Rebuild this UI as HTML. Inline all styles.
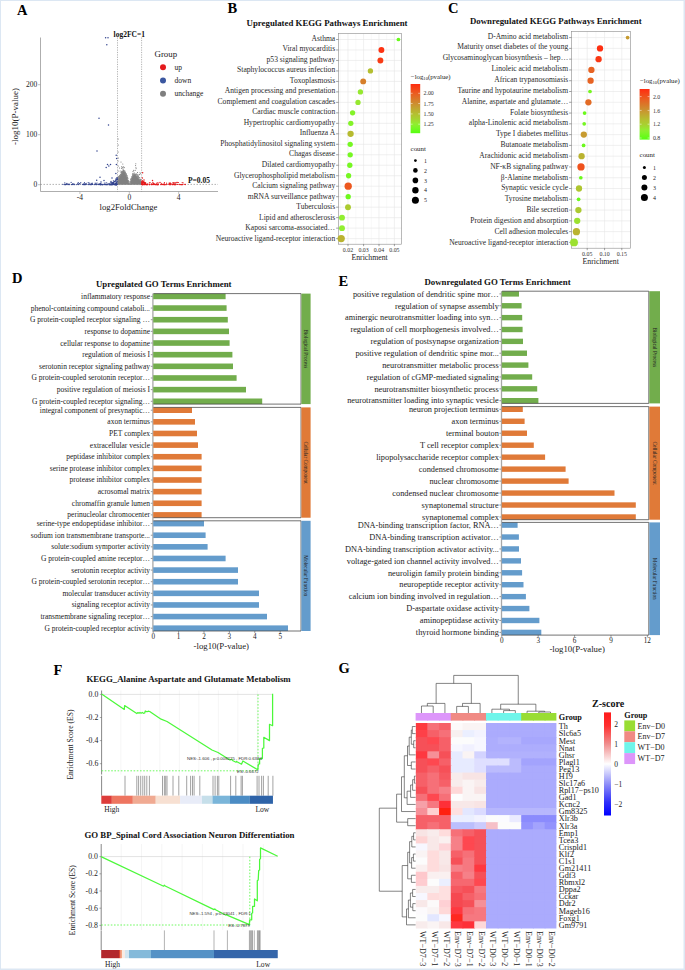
<!DOCTYPE html>
<html><head><meta charset="utf-8"><style>
html,body{margin:0;padding:0;background:#fff;}
svg{display:block;font-family:"Liberation Serif", serif;}
</style></head><body>
<svg width="685" height="970" viewBox="0 0 685 970">
<rect x="0" y="0" width="685" height="970" fill="#fff"/>
<text x="17.00" y="15.00" font-size="14.5" text-anchor="start" font-weight="bold" fill="#000">A</text>
<line x1="40.50" y1="37.50" x2="40.50" y2="191.50" stroke="#999" stroke-width="0.8"/>
<line x1="40.50" y1="191.50" x2="218.00" y2="191.50" stroke="#999" stroke-width="0.8"/>
<line x1="38.00" y1="184.70" x2="40.50" y2="184.70" stroke="#999" stroke-width="0.6"/>
<text x="37.30" y="187.30" font-size="7.5" text-anchor="end" fill="#222">0</text>
<line x1="38.00" y1="134.70" x2="40.50" y2="134.70" stroke="#999" stroke-width="0.6"/>
<text x="37.30" y="137.30" font-size="7.5" text-anchor="end" fill="#222">100</text>
<line x1="38.00" y1="84.70" x2="40.50" y2="84.70" stroke="#999" stroke-width="0.6"/>
<text x="37.30" y="87.30" font-size="7.5" text-anchor="end" fill="#222">200</text>
<line x1="79.90" y1="191.50" x2="79.90" y2="194.00" stroke="#999" stroke-width="0.6"/>
<text x="79.90" y="199.80" font-size="7.5" text-anchor="middle" fill="#222">-4</text>
<line x1="129.30" y1="191.50" x2="129.30" y2="194.00" stroke="#999" stroke-width="0.6"/>
<text x="129.30" y="199.80" font-size="7.5" text-anchor="middle" fill="#222">0</text>
<line x1="178.70" y1="191.50" x2="178.70" y2="194.00" stroke="#999" stroke-width="0.6"/>
<text x="178.70" y="199.80" font-size="7.5" text-anchor="middle" fill="#222">4</text>
<text x="128.50" y="209.60" font-size="8.7" text-anchor="middle" fill="#222">log2FoldChange</text>
<text x="17.60" y="116.50" font-size="9" text-anchor="middle" fill="#222" transform="rotate(-90 17.60 116.50)">-log10(P-value)</text>
<line x1="117.50" y1="37.50" x2="117.50" y2="191.50" stroke="#666" stroke-width="0.5" stroke-dasharray="1.2,1.2"/>
<line x1="141.60" y1="37.50" x2="141.60" y2="191.50" stroke="#666" stroke-width="0.5" stroke-dasharray="1.2,1.2"/>
<line x1="40.50" y1="184.40" x2="218.00" y2="184.40" stroke="#666" stroke-width="0.5" stroke-dasharray="1.5,1.5"/>
<polygon points="117.60,184.60 117.60,179.80 119.00,177.60 120.50,175.40 122.00,172.30 123.40,170.80 124.80,172.00 126.40,175.60 128.00,180.20 129.40,184.40" fill="#808080" stroke="#808080" stroke-width="0.6" stroke-linejoin="round"/>
<polygon points="130.00,184.40 131.00,180.20 132.50,175.80 134.00,174.30 135.60,174.90 137.20,176.60 139.20,179.20 141.30,181.40 141.30,184.60" fill="#808080" stroke="#808080" stroke-width="0.6" stroke-linejoin="round"/>
<circle cx="125.38" cy="173.25" r="0.50" fill="#8a8a8a"/>
<circle cx="133.03" cy="175.26" r="0.50" fill="#8a8a8a"/>
<circle cx="130.34" cy="182.68" r="0.50" fill="#8a8a8a"/>
<circle cx="119.16" cy="176.80" r="0.50" fill="#8a8a8a"/>
<circle cx="118.68" cy="177.69" r="0.50" fill="#8a8a8a"/>
<circle cx="119.43" cy="176.94" r="0.50" fill="#8a8a8a"/>
<circle cx="127.73" cy="177.93" r="0.50" fill="#8a8a8a"/>
<circle cx="120.70" cy="174.88" r="0.50" fill="#8a8a8a"/>
<circle cx="132.48" cy="173.88" r="0.50" fill="#8a8a8a"/>
<circle cx="131.30" cy="178.96" r="0.50" fill="#8a8a8a"/>
<circle cx="140.64" cy="180.71" r="0.50" fill="#8a8a8a"/>
<circle cx="137.89" cy="177.31" r="0.50" fill="#8a8a8a"/>
<circle cx="121.18" cy="173.97" r="0.50" fill="#8a8a8a"/>
<circle cx="125.02" cy="171.03" r="0.50" fill="#8a8a8a"/>
<circle cx="122.03" cy="171.52" r="0.50" fill="#8a8a8a"/>
<circle cx="132.75" cy="175.24" r="0.50" fill="#8a8a8a"/>
<circle cx="130.62" cy="181.80" r="0.50" fill="#8a8a8a"/>
<circle cx="119.19" cy="177.22" r="0.50" fill="#8a8a8a"/>
<circle cx="133.72" cy="174.18" r="0.50" fill="#8a8a8a"/>
<circle cx="125.15" cy="172.04" r="0.50" fill="#8a8a8a"/>
<circle cx="128.40" cy="181.22" r="0.50" fill="#8a8a8a"/>
<circle cx="136.39" cy="174.66" r="0.50" fill="#8a8a8a"/>
<circle cx="123.51" cy="170.17" r="0.50" fill="#8a8a8a"/>
<circle cx="130.09" cy="182.34" r="0.50" fill="#8a8a8a"/>
<circle cx="134.87" cy="174.44" r="0.50" fill="#8a8a8a"/>
<circle cx="140.74" cy="180.78" r="0.50" fill="#8a8a8a"/>
<circle cx="127.58" cy="177.74" r="0.50" fill="#8a8a8a"/>
<circle cx="121.36" cy="173.10" r="0.50" fill="#8a8a8a"/>
<circle cx="118.72" cy="177.06" r="0.50" fill="#8a8a8a"/>
<circle cx="135.69" cy="174.27" r="0.50" fill="#8a8a8a"/>
<circle cx="138.29" cy="177.80" r="0.50" fill="#8a8a8a"/>
<circle cx="134.07" cy="173.55" r="0.50" fill="#8a8a8a"/>
<circle cx="131.37" cy="178.66" r="0.50" fill="#8a8a8a"/>
<circle cx="137.46" cy="174.97" r="0.50" fill="#8a8a8a"/>
<circle cx="128.89" cy="181.91" r="0.50" fill="#8a8a8a"/>
<circle cx="119.22" cy="176.20" r="0.50" fill="#8a8a8a"/>
<circle cx="132.94" cy="173.19" r="0.50" fill="#8a8a8a"/>
<circle cx="137.03" cy="176.24" r="0.50" fill="#8a8a8a"/>
<circle cx="126.83" cy="175.85" r="0.50" fill="#8a8a8a"/>
<circle cx="118.33" cy="178.19" r="0.50" fill="#8a8a8a"/>
<circle cx="121.73" cy="172.82" r="0.50" fill="#8a8a8a"/>
<circle cx="119.18" cy="176.04" r="0.50" fill="#8a8a8a"/>
<circle cx="120.83" cy="174.59" r="0.50" fill="#8a8a8a"/>
<circle cx="126.95" cy="175.51" r="0.50" fill="#8a8a8a"/>
<circle cx="119.69" cy="176.15" r="0.50" fill="#8a8a8a"/>
<circle cx="130.66" cy="179.92" r="0.50" fill="#8a8a8a"/>
<circle cx="136.97" cy="174.71" r="0.50" fill="#8a8a8a"/>
<circle cx="124.32" cy="171.20" r="0.50" fill="#8a8a8a"/>
<circle cx="126.20" cy="173.42" r="0.50" fill="#8a8a8a"/>
<circle cx="140.21" cy="180.21" r="0.50" fill="#8a8a8a"/>
<circle cx="121.92" cy="172.34" r="0.50" fill="#8a8a8a"/>
<circle cx="123.26" cy="170.43" r="0.50" fill="#8a8a8a"/>
<circle cx="131.59" cy="178.33" r="0.50" fill="#8a8a8a"/>
<circle cx="117.90" cy="178.95" r="0.50" fill="#8a8a8a"/>
<circle cx="126.44" cy="175.01" r="0.50" fill="#8a8a8a"/>
<circle cx="140.10" cy="179.10" r="0.50" fill="#8a8a8a"/>
<circle cx="129.86" cy="183.66" r="0.50" fill="#8a8a8a"/>
<circle cx="133.62" cy="174.67" r="0.50" fill="#8a8a8a"/>
<circle cx="138.85" cy="177.41" r="0.50" fill="#8a8a8a"/>
<circle cx="138.26" cy="176.58" r="0.50" fill="#8a8a8a"/>
<circle cx="126.98" cy="176.92" r="0.50" fill="#8a8a8a"/>
<circle cx="120.22" cy="174.92" r="0.50" fill="#8a8a8a"/>
<circle cx="119.26" cy="177.21" r="0.50" fill="#8a8a8a"/>
<circle cx="122.69" cy="171.51" r="0.50" fill="#8a8a8a"/>
<circle cx="125.76" cy="174.15" r="0.50" fill="#8a8a8a"/>
<circle cx="117.81" cy="179.43" r="0.50" fill="#8a8a8a"/>
<circle cx="120.17" cy="175.59" r="0.50" fill="#8a8a8a"/>
<circle cx="118.40" cy="176.87" r="0.50" fill="#8a8a8a"/>
<circle cx="132.17" cy="176.72" r="0.50" fill="#8a8a8a"/>
<circle cx="123.70" cy="170.79" r="0.50" fill="#8a8a8a"/>
<circle cx="126.32" cy="175.39" r="0.50" fill="#8a8a8a"/>
<circle cx="137.67" cy="175.03" r="0.50" fill="#8a8a8a"/>
<circle cx="128.70" cy="181.80" r="0.50" fill="#8a8a8a"/>
<circle cx="119.81" cy="176.39" r="0.50" fill="#8a8a8a"/>
<circle cx="125.82" cy="174.14" r="0.50" fill="#8a8a8a"/>
<circle cx="137.20" cy="176.54" r="0.50" fill="#8a8a8a"/>
<circle cx="118.34" cy="176.65" r="0.50" fill="#8a8a8a"/>
<circle cx="130.16" cy="183.68" r="0.50" fill="#8a8a8a"/>
<circle cx="130.51" cy="182.26" r="0.50" fill="#8a8a8a"/>
<circle cx="130.16" cy="181.63" r="0.50" fill="#8a8a8a"/>
<circle cx="138.00" cy="176.58" r="0.50" fill="#8a8a8a"/>
<circle cx="123.91" cy="170.94" r="0.50" fill="#8a8a8a"/>
<circle cx="121.71" cy="171.59" r="0.50" fill="#8a8a8a"/>
<circle cx="130.26" cy="181.96" r="0.50" fill="#8a8a8a"/>
<circle cx="125.51" cy="173.50" r="0.50" fill="#8a8a8a"/>
<circle cx="136.79" cy="174.03" r="0.50" fill="#8a8a8a"/>
<circle cx="137.75" cy="175.89" r="0.50" fill="#8a8a8a"/>
<circle cx="136.95" cy="175.13" r="0.50" fill="#8a8a8a"/>
<circle cx="123.11" cy="170.53" r="0.50" fill="#8a8a8a"/>
<circle cx="126.12" cy="174.97" r="0.50" fill="#8a8a8a"/>
<circle cx="118.45" cy="178.29" r="0.50" fill="#8a8a8a"/>
<circle cx="123.86" cy="170.14" r="0.50" fill="#8a8a8a"/>
<circle cx="140.18" cy="179.79" r="0.50" fill="#8a8a8a"/>
<circle cx="139.73" cy="177.60" r="0.50" fill="#8a8a8a"/>
<circle cx="140.15" cy="179.90" r="0.50" fill="#8a8a8a"/>
<circle cx="122.96" cy="171.16" r="0.50" fill="#8a8a8a"/>
<circle cx="122.40" cy="171.78" r="0.50" fill="#8a8a8a"/>
<circle cx="132.40" cy="174.30" r="0.50" fill="#8a8a8a"/>
<circle cx="137.47" cy="176.44" r="0.50" fill="#8a8a8a"/>
<circle cx="133.08" cy="173.81" r="0.50" fill="#8a8a8a"/>
<circle cx="119.78" cy="175.49" r="0.50" fill="#8a8a8a"/>
<circle cx="139.09" cy="177.71" r="0.50" fill="#8a8a8a"/>
<circle cx="135.35" cy="174.30" r="0.50" fill="#8a8a8a"/>
<circle cx="121.98" cy="170.98" r="0.50" fill="#8a8a8a"/>
<circle cx="125.58" cy="172.35" r="0.50" fill="#8a8a8a"/>
<circle cx="140.54" cy="180.26" r="0.50" fill="#8a8a8a"/>
<circle cx="127.19" cy="175.91" r="0.50" fill="#8a8a8a"/>
<circle cx="134.76" cy="174.52" r="0.50" fill="#8a8a8a"/>
<circle cx="120.77" cy="174.79" r="0.50" fill="#8a8a8a"/>
<circle cx="138.97" cy="177.47" r="0.50" fill="#8a8a8a"/>
<circle cx="121.22" cy="172.41" r="0.50" fill="#8a8a8a"/>
<circle cx="140.74" cy="179.86" r="0.50" fill="#8a8a8a"/>
<circle cx="126.00" cy="174.04" r="0.50" fill="#8a8a8a"/>
<circle cx="120.87" cy="174.65" r="0.50" fill="#8a8a8a"/>
<circle cx="140.52" cy="179.65" r="0.50" fill="#8a8a8a"/>
<circle cx="130.12" cy="181.97" r="0.50" fill="#8a8a8a"/>
<circle cx="127.95" cy="178.39" r="0.50" fill="#8a8a8a"/>
<circle cx="137.13" cy="176.43" r="0.50" fill="#8a8a8a"/>
<circle cx="123.69" cy="170.86" r="0.50" fill="#8a8a8a"/>
<circle cx="123.43" cy="170.07" r="0.50" fill="#8a8a8a"/>
<circle cx="123.87" cy="170.82" r="0.50" fill="#8a8a8a"/>
<circle cx="120.87" cy="172.82" r="0.50" fill="#8a8a8a"/>
<circle cx="126.08" cy="174.41" r="0.50" fill="#8a8a8a"/>
<circle cx="131.45" cy="177.08" r="0.50" fill="#8a8a8a"/>
<circle cx="127.64" cy="177.32" r="0.50" fill="#8a8a8a"/>
<circle cx="129.54" cy="183.88" r="0.50" fill="#8a8a8a"/>
<circle cx="130.05" cy="184.19" r="0.50" fill="#8a8a8a"/>
<circle cx="128.10" cy="180.42" r="0.50" fill="#8a8a8a"/>
<circle cx="117.89" cy="177.94" r="0.50" fill="#8a8a8a"/>
<circle cx="121.83" cy="172.15" r="0.50" fill="#8a8a8a"/>
<circle cx="134.77" cy="173.91" r="0.50" fill="#8a8a8a"/>
<circle cx="125.43" cy="172.82" r="0.50" fill="#8a8a8a"/>
<circle cx="130.80" cy="179.70" r="0.50" fill="#8a8a8a"/>
<circle cx="120.28" cy="175.03" r="0.50" fill="#8a8a8a"/>
<circle cx="123.61" cy="170.82" r="0.50" fill="#8a8a8a"/>
<circle cx="135.87" cy="174.62" r="0.50" fill="#8a8a8a"/>
<circle cx="130.94" cy="179.16" r="0.50" fill="#8a8a8a"/>
<circle cx="139.15" cy="178.71" r="0.50" fill="#8a8a8a"/>
<circle cx="132.13" cy="176.31" r="0.50" fill="#8a8a8a"/>
<circle cx="129.78" cy="183.44" r="0.50" fill="#8a8a8a"/>
<circle cx="128.38" cy="180.73" r="0.50" fill="#8a8a8a"/>
<circle cx="128.99" cy="181.21" r="0.50" fill="#8a8a8a"/>
<circle cx="134.16" cy="172.67" r="0.50" fill="#8a8a8a"/>
<circle cx="139.85" cy="179.73" r="0.50" fill="#8a8a8a"/>
<circle cx="130.89" cy="178.69" r="0.50" fill="#8a8a8a"/>
<circle cx="137.46" cy="176.89" r="0.50" fill="#8a8a8a"/>
<circle cx="120.65" cy="174.67" r="0.50" fill="#8a8a8a"/>
<circle cx="119.50" cy="176.74" r="0.50" fill="#8a8a8a"/>
<circle cx="119.51" cy="175.86" r="0.50" fill="#8a8a8a"/>
<circle cx="136.14" cy="173.71" r="0.50" fill="#8a8a8a"/>
<circle cx="121.41" cy="172.38" r="0.50" fill="#8a8a8a"/>
<circle cx="133.25" cy="175.01" r="0.50" fill="#8a8a8a"/>
<circle cx="138.46" cy="176.18" r="0.50" fill="#8a8a8a"/>
<circle cx="122.94" cy="169.30" r="0.50" fill="#8a8a8a"/>
<circle cx="127.12" cy="177.15" r="0.50" fill="#8a8a8a"/>
<circle cx="140.96" cy="179.52" r="0.50" fill="#8a8a8a"/>
<circle cx="121.58" cy="172.76" r="0.50" fill="#8a8a8a"/>
<circle cx="129.87" cy="184.25" r="0.50" fill="#8a8a8a"/>
<circle cx="122.38" cy="171.67" r="0.50" fill="#8a8a8a"/>
<circle cx="134.70" cy="174.56" r="0.50" fill="#8a8a8a"/>
<circle cx="121.50" cy="168.20" r="0.55" fill="#7a7a7a"/>
<circle cx="122.20" cy="167.60" r="0.55" fill="#7a7a7a"/>
<circle cx="123.00" cy="167.90" r="0.55" fill="#7a7a7a"/>
<circle cx="123.60" cy="166.80" r="0.55" fill="#7a7a7a"/>
<circle cx="124.30" cy="167.60" r="0.55" fill="#7a7a7a"/>
<circle cx="121.80" cy="166.50" r="0.55" fill="#7a7a7a"/>
<circle cx="122.80" cy="164.00" r="0.55" fill="#7a7a7a"/>
<circle cx="121.00" cy="162.00" r="0.55" fill="#7a7a7a"/>
<circle cx="135.60" cy="165.50" r="0.55" fill="#7a7a7a"/>
<circle cx="135.90" cy="167.20" r="0.55" fill="#7a7a7a"/>
<circle cx="136.10" cy="168.60" r="0.55" fill="#7a7a7a"/>
<circle cx="135.30" cy="170.20" r="0.55" fill="#7a7a7a"/>
<circle cx="135.80" cy="163.80" r="0.55" fill="#7a7a7a"/>
<circle cx="140.00" cy="172.80" r="0.55" fill="#7a7a7a"/>
<circle cx="139.50" cy="174.60" r="0.55" fill="#7a7a7a"/>
<circle cx="140.50" cy="173.80" r="0.55" fill="#7a7a7a"/>
<circle cx="118.20" cy="171.00" r="0.55" fill="#7a7a7a"/>
<circle cx="118.30" cy="166.00" r="0.55" fill="#7a7a7a"/>
<circle cx="118.10" cy="161.00" r="0.55" fill="#7a7a7a"/>
<circle cx="118.40" cy="158.00" r="0.55" fill="#7a7a7a"/>
<circle cx="118.20" cy="152.00" r="0.55" fill="#7a7a7a"/>
<circle cx="118.30" cy="145.00" r="0.55" fill="#7a7a7a"/>
<circle cx="118.20" cy="139.00" r="0.55" fill="#7a7a7a"/>
<circle cx="119.50" cy="168.00" r="0.55" fill="#7a7a7a"/>
<circle cx="120.20" cy="171.00" r="0.55" fill="#7a7a7a"/>
<circle cx="133.00" cy="171.50" r="0.55" fill="#7a7a7a"/>
<circle cx="133.80" cy="170.40" r="0.55" fill="#7a7a7a"/>
<circle cx="137.50" cy="172.50" r="0.55" fill="#7a7a7a"/>
<circle cx="138.60" cy="175.00" r="0.55" fill="#7a7a7a"/>
<circle cx="97.01" cy="184.52" r="0.60" fill="#34458f"/>
<circle cx="116.74" cy="184.57" r="0.60" fill="#34458f"/>
<circle cx="92.58" cy="184.45" r="0.60" fill="#34458f"/>
<circle cx="116.29" cy="182.53" r="0.60" fill="#34458f"/>
<circle cx="80.76" cy="182.64" r="0.60" fill="#34458f"/>
<circle cx="115.63" cy="184.59" r="0.60" fill="#34458f"/>
<circle cx="116.58" cy="183.79" r="0.60" fill="#34458f"/>
<circle cx="110.95" cy="184.60" r="0.60" fill="#34458f"/>
<circle cx="104.33" cy="183.08" r="0.60" fill="#34458f"/>
<circle cx="78.34" cy="184.59" r="0.60" fill="#34458f"/>
<circle cx="114.67" cy="183.03" r="0.60" fill="#34458f"/>
<circle cx="96.00" cy="184.07" r="0.60" fill="#34458f"/>
<circle cx="115.91" cy="184.60" r="0.60" fill="#34458f"/>
<circle cx="88.19" cy="184.53" r="0.60" fill="#34458f"/>
<circle cx="116.18" cy="182.89" r="0.60" fill="#34458f"/>
<circle cx="91.89" cy="183.69" r="0.60" fill="#34458f"/>
<circle cx="116.00" cy="183.42" r="0.60" fill="#34458f"/>
<circle cx="116.26" cy="183.38" r="0.60" fill="#34458f"/>
<circle cx="102.71" cy="184.57" r="0.60" fill="#34458f"/>
<circle cx="97.07" cy="182.98" r="0.60" fill="#34458f"/>
<circle cx="111.05" cy="184.60" r="0.60" fill="#34458f"/>
<circle cx="98.63" cy="184.59" r="0.60" fill="#34458f"/>
<circle cx="115.54" cy="184.60" r="0.60" fill="#34458f"/>
<circle cx="116.46" cy="184.60" r="0.60" fill="#34458f"/>
<circle cx="109.35" cy="184.58" r="0.60" fill="#34458f"/>
<circle cx="82.97" cy="184.58" r="0.60" fill="#34458f"/>
<circle cx="100.17" cy="184.60" r="0.60" fill="#34458f"/>
<circle cx="107.87" cy="184.60" r="0.60" fill="#34458f"/>
<circle cx="111.67" cy="184.60" r="0.60" fill="#34458f"/>
<circle cx="84.95" cy="184.40" r="0.60" fill="#34458f"/>
<circle cx="113.61" cy="184.49" r="0.60" fill="#34458f"/>
<circle cx="68.66" cy="184.60" r="0.60" fill="#34458f"/>
<circle cx="78.35" cy="184.52" r="0.60" fill="#34458f"/>
<circle cx="100.46" cy="183.53" r="0.60" fill="#34458f"/>
<circle cx="105.76" cy="184.45" r="0.60" fill="#34458f"/>
<circle cx="88.22" cy="182.55" r="0.60" fill="#34458f"/>
<circle cx="108.06" cy="183.54" r="0.60" fill="#34458f"/>
<circle cx="86.87" cy="184.24" r="0.60" fill="#34458f"/>
<circle cx="105.20" cy="184.57" r="0.60" fill="#34458f"/>
<circle cx="116.42" cy="184.60" r="0.60" fill="#34458f"/>
<circle cx="116.20" cy="183.94" r="0.60" fill="#34458f"/>
<circle cx="111.49" cy="184.60" r="0.60" fill="#34458f"/>
<circle cx="115.99" cy="183.50" r="0.60" fill="#34458f"/>
<circle cx="74.14" cy="184.16" r="0.60" fill="#34458f"/>
<circle cx="110.52" cy="184.59" r="0.60" fill="#34458f"/>
<circle cx="110.10" cy="184.50" r="0.60" fill="#34458f"/>
<circle cx="114.47" cy="184.51" r="0.60" fill="#34458f"/>
<circle cx="111.22" cy="182.72" r="0.60" fill="#34458f"/>
<circle cx="65.29" cy="184.40" r="0.60" fill="#34458f"/>
<circle cx="111.88" cy="182.69" r="0.60" fill="#34458f"/>
<circle cx="109.44" cy="184.56" r="0.60" fill="#34458f"/>
<circle cx="116.80" cy="184.55" r="0.60" fill="#34458f"/>
<circle cx="101.59" cy="184.46" r="0.60" fill="#34458f"/>
<circle cx="113.27" cy="184.46" r="0.60" fill="#34458f"/>
<circle cx="116.79" cy="184.59" r="0.60" fill="#34458f"/>
<circle cx="115.90" cy="184.54" r="0.60" fill="#34458f"/>
<circle cx="116.56" cy="184.60" r="0.60" fill="#34458f"/>
<circle cx="109.66" cy="184.59" r="0.60" fill="#34458f"/>
<circle cx="95.06" cy="184.43" r="0.60" fill="#34458f"/>
<circle cx="83.65" cy="184.19" r="0.60" fill="#34458f"/>
<circle cx="86.20" cy="183.29" r="0.60" fill="#34458f"/>
<circle cx="105.93" cy="184.58" r="0.60" fill="#34458f"/>
<circle cx="64.19" cy="184.60" r="0.60" fill="#34458f"/>
<circle cx="85.60" cy="184.22" r="0.60" fill="#34458f"/>
<circle cx="116.54" cy="183.53" r="0.60" fill="#34458f"/>
<circle cx="72.34" cy="184.26" r="0.60" fill="#34458f"/>
<circle cx="84.89" cy="183.64" r="0.60" fill="#34458f"/>
<circle cx="114.91" cy="184.43" r="0.60" fill="#34458f"/>
<circle cx="99.93" cy="183.53" r="0.60" fill="#34458f"/>
<circle cx="79.48" cy="183.57" r="0.60" fill="#34458f"/>
<circle cx="95.15" cy="183.20" r="0.60" fill="#34458f"/>
<circle cx="88.56" cy="184.09" r="0.60" fill="#34458f"/>
<circle cx="112.36" cy="184.60" r="0.60" fill="#34458f"/>
<circle cx="115.05" cy="184.56" r="0.60" fill="#34458f"/>
<circle cx="115.63" cy="183.53" r="0.60" fill="#34458f"/>
<circle cx="96.74" cy="184.26" r="0.60" fill="#34458f"/>
<circle cx="92.43" cy="184.13" r="0.60" fill="#34458f"/>
<circle cx="100.78" cy="184.60" r="0.60" fill="#34458f"/>
<circle cx="80.03" cy="183.91" r="0.60" fill="#34458f"/>
<circle cx="100.01" cy="184.42" r="0.60" fill="#34458f"/>
<circle cx="90.20" cy="184.60" r="0.60" fill="#34458f"/>
<circle cx="84.67" cy="184.59" r="0.60" fill="#34458f"/>
<circle cx="116.15" cy="184.59" r="0.60" fill="#34458f"/>
<circle cx="85.22" cy="184.60" r="0.60" fill="#34458f"/>
<circle cx="84.45" cy="182.61" r="0.60" fill="#34458f"/>
<circle cx="100.52" cy="184.55" r="0.60" fill="#34458f"/>
<circle cx="101.35" cy="184.12" r="0.60" fill="#34458f"/>
<circle cx="82.40" cy="184.28" r="0.60" fill="#34458f"/>
<circle cx="91.33" cy="184.60" r="0.60" fill="#34458f"/>
<circle cx="114.72" cy="184.59" r="0.60" fill="#34458f"/>
<circle cx="84.19" cy="184.58" r="0.60" fill="#34458f"/>
<circle cx="96.17" cy="184.60" r="0.60" fill="#34458f"/>
<circle cx="116.34" cy="184.59" r="0.60" fill="#34458f"/>
<circle cx="89.33" cy="184.09" r="0.60" fill="#34458f"/>
<circle cx="89.07" cy="184.58" r="0.60" fill="#34458f"/>
<circle cx="99.23" cy="184.50" r="0.60" fill="#34458f"/>
<circle cx="102.04" cy="184.60" r="0.60" fill="#34458f"/>
<circle cx="72.19" cy="184.60" r="0.60" fill="#34458f"/>
<circle cx="64.79" cy="182.91" r="0.60" fill="#34458f"/>
<circle cx="116.74" cy="184.50" r="0.60" fill="#34458f"/>
<circle cx="78.27" cy="182.67" r="0.60" fill="#34458f"/>
<circle cx="102.93" cy="184.59" r="0.60" fill="#34458f"/>
<circle cx="113.00" cy="182.84" r="0.60" fill="#34458f"/>
<circle cx="112.97" cy="184.35" r="0.60" fill="#34458f"/>
<circle cx="114.85" cy="184.43" r="0.60" fill="#34458f"/>
<circle cx="67.07" cy="184.60" r="0.60" fill="#34458f"/>
<circle cx="78.25" cy="184.45" r="0.60" fill="#34458f"/>
<circle cx="72.77" cy="184.06" r="0.60" fill="#34458f"/>
<circle cx="112.32" cy="183.17" r="0.60" fill="#34458f"/>
<circle cx="100.96" cy="184.60" r="0.60" fill="#34458f"/>
<circle cx="116.80" cy="184.47" r="0.60" fill="#34458f"/>
<circle cx="102.87" cy="184.58" r="0.60" fill="#34458f"/>
<circle cx="114.87" cy="184.57" r="0.60" fill="#34458f"/>
<circle cx="109.18" cy="183.50" r="0.60" fill="#34458f"/>
<circle cx="116.80" cy="183.90" r="0.60" fill="#34458f"/>
<circle cx="76.72" cy="184.60" r="0.60" fill="#34458f"/>
<circle cx="69.38" cy="184.03" r="0.60" fill="#34458f"/>
<circle cx="71.52" cy="184.58" r="0.60" fill="#34458f"/>
<circle cx="106.74" cy="184.55" r="0.60" fill="#34458f"/>
<circle cx="62.91" cy="184.33" r="0.60" fill="#34458f"/>
<circle cx="107.26" cy="184.53" r="0.60" fill="#34458f"/>
<circle cx="110.78" cy="184.60" r="0.60" fill="#34458f"/>
<circle cx="115.69" cy="183.53" r="0.60" fill="#34458f"/>
<circle cx="110.38" cy="182.91" r="0.60" fill="#34458f"/>
<circle cx="111.71" cy="184.59" r="0.60" fill="#34458f"/>
<circle cx="99.56" cy="184.60" r="0.60" fill="#34458f"/>
<circle cx="106.68" cy="182.76" r="0.60" fill="#34458f"/>
<circle cx="72.99" cy="183.64" r="0.60" fill="#34458f"/>
<circle cx="92.12" cy="183.07" r="0.60" fill="#34458f"/>
<circle cx="68.13" cy="184.40" r="0.60" fill="#34458f"/>
<circle cx="85.94" cy="184.60" r="0.60" fill="#34458f"/>
<circle cx="85.00" cy="184.51" r="0.60" fill="#34458f"/>
<circle cx="83.49" cy="184.22" r="0.60" fill="#34458f"/>
<circle cx="110.36" cy="184.60" r="0.60" fill="#34458f"/>
<circle cx="69.35" cy="184.60" r="0.60" fill="#34458f"/>
<circle cx="101.72" cy="184.57" r="0.60" fill="#34458f"/>
<circle cx="109.91" cy="183.94" r="0.60" fill="#34458f"/>
<circle cx="64.96" cy="184.59" r="0.60" fill="#34458f"/>
<circle cx="90.43" cy="184.58" r="0.60" fill="#34458f"/>
<circle cx="96.81" cy="184.55" r="0.60" fill="#34458f"/>
<circle cx="114.21" cy="184.60" r="0.60" fill="#34458f"/>
<circle cx="113.06" cy="183.12" r="0.60" fill="#34458f"/>
<circle cx="100.34" cy="184.59" r="0.60" fill="#34458f"/>
<circle cx="71.12" cy="182.43" r="0.60" fill="#34458f"/>
<circle cx="102.91" cy="184.60" r="0.60" fill="#34458f"/>
<circle cx="113.52" cy="184.60" r="0.60" fill="#34458f"/>
<circle cx="108.09" cy="184.60" r="0.60" fill="#34458f"/>
<circle cx="112.06" cy="184.59" r="0.60" fill="#34458f"/>
<circle cx="96.06" cy="183.24" r="0.60" fill="#34458f"/>
<circle cx="83.71" cy="184.54" r="0.60" fill="#34458f"/>
<circle cx="104.75" cy="184.43" r="0.60" fill="#34458f"/>
<circle cx="106.52" cy="184.57" r="0.60" fill="#34458f"/>
<circle cx="116.32" cy="184.59" r="0.60" fill="#34458f"/>
<circle cx="65.73" cy="184.60" r="0.60" fill="#34458f"/>
<circle cx="99.99" cy="184.25" r="0.60" fill="#34458f"/>
<circle cx="74.78" cy="184.60" r="0.60" fill="#34458f"/>
<circle cx="110.93" cy="184.59" r="0.60" fill="#34458f"/>
<circle cx="105.44" cy="184.51" r="0.60" fill="#34458f"/>
<circle cx="66.96" cy="183.46" r="0.60" fill="#34458f"/>
<circle cx="73.94" cy="184.60" r="0.60" fill="#34458f"/>
<circle cx="116.64" cy="184.04" r="0.60" fill="#34458f"/>
<circle cx="72.02" cy="184.49" r="0.60" fill="#34458f"/>
<circle cx="94.96" cy="184.60" r="0.60" fill="#34458f"/>
<circle cx="105.83" cy="182.98" r="0.60" fill="#34458f"/>
<circle cx="77.82" cy="183.42" r="0.60" fill="#34458f"/>
<circle cx="65.32" cy="184.59" r="0.60" fill="#34458f"/>
<circle cx="115.55" cy="184.60" r="0.60" fill="#34458f"/>
<circle cx="98.90" cy="184.12" r="0.60" fill="#34458f"/>
<circle cx="68.06" cy="184.00" r="0.60" fill="#34458f"/>
<circle cx="91.02" cy="183.85" r="0.60" fill="#34458f"/>
<circle cx="102.52" cy="184.40" r="0.60" fill="#34458f"/>
<circle cx="116.58" cy="183.78" r="0.60" fill="#34458f"/>
<circle cx="112.28" cy="183.02" r="0.60" fill="#34458f"/>
<circle cx="91.14" cy="184.58" r="0.60" fill="#34458f"/>
<circle cx="115.16" cy="184.59" r="0.60" fill="#34458f"/>
<circle cx="91.76" cy="184.08" r="0.60" fill="#34458f"/>
<circle cx="115.49" cy="184.60" r="0.60" fill="#34458f"/>
<circle cx="98.78" cy="184.35" r="0.60" fill="#34458f"/>
<circle cx="106.00" cy="184.59" r="0.60" fill="#34458f"/>
<circle cx="94.07" cy="184.60" r="0.60" fill="#34458f"/>
<circle cx="109.77" cy="184.50" r="0.60" fill="#34458f"/>
<circle cx="66.51" cy="184.22" r="0.60" fill="#34458f"/>
<circle cx="73.03" cy="184.49" r="0.60" fill="#34458f"/>
<circle cx="112.20" cy="184.59" r="0.60" fill="#34458f"/>
<circle cx="66.37" cy="184.06" r="0.60" fill="#34458f"/>
<circle cx="109.53" cy="184.60" r="0.60" fill="#34458f"/>
<circle cx="100.27" cy="184.14" r="0.60" fill="#34458f"/>
<circle cx="104.44" cy="184.59" r="0.60" fill="#34458f"/>
<circle cx="89.65" cy="182.99" r="0.60" fill="#34458f"/>
<circle cx="112.47" cy="184.60" r="0.60" fill="#34458f"/>
<circle cx="113.49" cy="182.96" r="0.60" fill="#34458f"/>
<circle cx="115.53" cy="180.36" r="0.60" fill="#34458f"/>
<circle cx="116.20" cy="182.87" r="0.60" fill="#34458f"/>
<circle cx="114.48" cy="181.44" r="0.60" fill="#34458f"/>
<circle cx="117.22" cy="179.48" r="0.60" fill="#34458f"/>
<circle cx="116.34" cy="179.75" r="0.60" fill="#34458f"/>
<circle cx="112.81" cy="184.01" r="0.60" fill="#34458f"/>
<circle cx="113.24" cy="184.30" r="0.60" fill="#34458f"/>
<circle cx="114.43" cy="181.43" r="0.60" fill="#34458f"/>
<circle cx="112.82" cy="183.44" r="0.60" fill="#34458f"/>
<circle cx="115.43" cy="184.15" r="0.60" fill="#34458f"/>
<circle cx="112.36" cy="183.75" r="0.60" fill="#34458f"/>
<circle cx="112.76" cy="184.36" r="0.60" fill="#34458f"/>
<circle cx="112.34" cy="183.41" r="0.60" fill="#34458f"/>
<circle cx="111.85" cy="184.13" r="0.60" fill="#34458f"/>
<circle cx="116.80" cy="183.63" r="0.60" fill="#34458f"/>
<circle cx="115.82" cy="184.39" r="0.60" fill="#34458f"/>
<circle cx="117.00" cy="179.79" r="0.60" fill="#34458f"/>
<circle cx="112.59" cy="184.31" r="0.60" fill="#34458f"/>
<circle cx="115.90" cy="179.07" r="0.60" fill="#34458f"/>
<circle cx="115.42" cy="181.36" r="0.60" fill="#34458f"/>
<circle cx="113.71" cy="182.56" r="0.60" fill="#34458f"/>
<circle cx="112.50" cy="183.16" r="0.60" fill="#34458f"/>
<circle cx="113.15" cy="183.06" r="0.60" fill="#34458f"/>
<circle cx="117.14" cy="178.22" r="0.60" fill="#34458f"/>
<circle cx="117.19" cy="178.76" r="0.60" fill="#34458f"/>
<circle cx="113.60" cy="183.93" r="0.60" fill="#34458f"/>
<circle cx="116.35" cy="180.96" r="0.60" fill="#34458f"/>
<circle cx="111.79" cy="184.21" r="0.60" fill="#34458f"/>
<circle cx="113.70" cy="184.18" r="0.60" fill="#34458f"/>
<circle cx="112.64" cy="183.49" r="0.60" fill="#34458f"/>
<circle cx="116.79" cy="177.98" r="0.60" fill="#34458f"/>
<circle cx="113.92" cy="183.83" r="0.60" fill="#34458f"/>
<circle cx="116.02" cy="178.98" r="0.60" fill="#34458f"/>
<circle cx="111.71" cy="184.16" r="0.60" fill="#34458f"/>
<circle cx="116.93" cy="179.36" r="0.60" fill="#34458f"/>
<circle cx="115.91" cy="183.84" r="0.60" fill="#34458f"/>
<circle cx="113.50" cy="182.58" r="0.60" fill="#34458f"/>
<circle cx="117.15" cy="181.69" r="0.60" fill="#34458f"/>
<circle cx="113.05" cy="183.85" r="0.60" fill="#34458f"/>
<circle cx="113.37" cy="182.71" r="0.60" fill="#34458f"/>
<circle cx="111.52" cy="184.39" r="0.60" fill="#34458f"/>
<circle cx="116.91" cy="181.93" r="0.60" fill="#34458f"/>
<circle cx="117.07" cy="177.61" r="0.60" fill="#34458f"/>
<circle cx="112.88" cy="183.49" r="0.60" fill="#34458f"/>
<circle cx="106.80" cy="44.80" r="0.75" fill="#34458f"/>
<circle cx="105.60" cy="37.80" r="0.75" fill="#34458f"/>
<circle cx="108.00" cy="37.80" r="0.75" fill="#34458f"/>
<circle cx="99.00" cy="118.20" r="0.75" fill="#34458f"/>
<circle cx="108.50" cy="125.00" r="0.75" fill="#34458f"/>
<circle cx="97.00" cy="151.00" r="0.75" fill="#34458f"/>
<circle cx="107.50" cy="164.50" r="0.75" fill="#34458f"/>
<circle cx="108.80" cy="166.00" r="0.75" fill="#34458f"/>
<circle cx="100.00" cy="177.30" r="0.75" fill="#34458f"/>
<circle cx="116.20" cy="155.30" r="0.75" fill="#34458f"/>
<circle cx="116.60" cy="158.50" r="0.75" fill="#34458f"/>
<circle cx="116.40" cy="164.40" r="0.75" fill="#34458f"/>
<circle cx="115.90" cy="173.50" r="0.75" fill="#34458f"/>
<circle cx="110.50" cy="164.40" r="0.75" fill="#34458f"/>
<circle cx="106.20" cy="167.40" r="0.75" fill="#34458f"/>
<circle cx="112.00" cy="178.00" r="0.75" fill="#34458f"/>
<circle cx="113.50" cy="181.00" r="0.75" fill="#34458f"/>
<circle cx="111.00" cy="181.50" r="0.75" fill="#34458f"/>
<circle cx="104.00" cy="180.50" r="0.75" fill="#34458f"/>
<circle cx="96.70" cy="180.30" r="0.75" fill="#34458f"/>
<circle cx="101.00" cy="182.00" r="0.75" fill="#34458f"/>
<circle cx="183.08" cy="182.78" r="0.60" fill="#e41a1c"/>
<circle cx="152.47" cy="184.59" r="0.60" fill="#e41a1c"/>
<circle cx="154.30" cy="184.47" r="0.60" fill="#e41a1c"/>
<circle cx="181.24" cy="184.60" r="0.60" fill="#e41a1c"/>
<circle cx="173.54" cy="183.95" r="0.60" fill="#e41a1c"/>
<circle cx="174.74" cy="183.82" r="0.60" fill="#e41a1c"/>
<circle cx="162.72" cy="184.57" r="0.60" fill="#e41a1c"/>
<circle cx="149.85" cy="184.56" r="0.60" fill="#e41a1c"/>
<circle cx="172.34" cy="184.60" r="0.60" fill="#e41a1c"/>
<circle cx="145.76" cy="183.89" r="0.60" fill="#e41a1c"/>
<circle cx="147.31" cy="184.60" r="0.60" fill="#e41a1c"/>
<circle cx="142.17" cy="184.39" r="0.60" fill="#e41a1c"/>
<circle cx="150.08" cy="182.57" r="0.60" fill="#e41a1c"/>
<circle cx="178.44" cy="182.51" r="0.60" fill="#e41a1c"/>
<circle cx="147.90" cy="184.60" r="0.60" fill="#e41a1c"/>
<circle cx="143.22" cy="184.46" r="0.60" fill="#e41a1c"/>
<circle cx="168.21" cy="184.51" r="0.60" fill="#e41a1c"/>
<circle cx="146.89" cy="184.53" r="0.60" fill="#e41a1c"/>
<circle cx="163.40" cy="184.15" r="0.60" fill="#e41a1c"/>
<circle cx="170.36" cy="183.47" r="0.60" fill="#e41a1c"/>
<circle cx="165.73" cy="184.60" r="0.60" fill="#e41a1c"/>
<circle cx="175.83" cy="184.58" r="0.60" fill="#e41a1c"/>
<circle cx="160.68" cy="184.56" r="0.60" fill="#e41a1c"/>
<circle cx="169.80" cy="184.60" r="0.60" fill="#e41a1c"/>
<circle cx="147.32" cy="184.59" r="0.60" fill="#e41a1c"/>
<circle cx="144.54" cy="183.26" r="0.60" fill="#e41a1c"/>
<circle cx="161.25" cy="184.58" r="0.60" fill="#e41a1c"/>
<circle cx="152.87" cy="182.47" r="0.60" fill="#e41a1c"/>
<circle cx="157.80" cy="184.59" r="0.60" fill="#e41a1c"/>
<circle cx="173.88" cy="184.20" r="0.60" fill="#e41a1c"/>
<circle cx="185.30" cy="184.60" r="0.60" fill="#e41a1c"/>
<circle cx="156.29" cy="183.61" r="0.60" fill="#e41a1c"/>
<circle cx="175.81" cy="183.06" r="0.60" fill="#e41a1c"/>
<circle cx="142.26" cy="184.58" r="0.60" fill="#e41a1c"/>
<circle cx="143.71" cy="184.60" r="0.60" fill="#e41a1c"/>
<circle cx="184.13" cy="184.35" r="0.60" fill="#e41a1c"/>
<circle cx="181.37" cy="184.56" r="0.60" fill="#e41a1c"/>
<circle cx="177.37" cy="184.51" r="0.60" fill="#e41a1c"/>
<circle cx="147.73" cy="183.79" r="0.60" fill="#e41a1c"/>
<circle cx="182.37" cy="184.60" r="0.60" fill="#e41a1c"/>
<circle cx="162.15" cy="184.28" r="0.60" fill="#e41a1c"/>
<circle cx="146.37" cy="184.56" r="0.60" fill="#e41a1c"/>
<circle cx="144.24" cy="184.60" r="0.60" fill="#e41a1c"/>
<circle cx="147.56" cy="184.32" r="0.60" fill="#e41a1c"/>
<circle cx="165.05" cy="184.60" r="0.60" fill="#e41a1c"/>
<circle cx="141.95" cy="184.57" r="0.60" fill="#e41a1c"/>
<circle cx="166.48" cy="184.60" r="0.60" fill="#e41a1c"/>
<circle cx="149.58" cy="184.60" r="0.60" fill="#e41a1c"/>
<circle cx="173.11" cy="184.40" r="0.60" fill="#e41a1c"/>
<circle cx="142.60" cy="184.60" r="0.60" fill="#e41a1c"/>
<circle cx="152.84" cy="184.40" r="0.60" fill="#e41a1c"/>
<circle cx="164.38" cy="184.60" r="0.60" fill="#e41a1c"/>
<circle cx="144.81" cy="184.09" r="0.60" fill="#e41a1c"/>
<circle cx="153.44" cy="184.59" r="0.60" fill="#e41a1c"/>
<circle cx="149.41" cy="182.78" r="0.60" fill="#e41a1c"/>
<circle cx="149.58" cy="184.37" r="0.60" fill="#e41a1c"/>
<circle cx="151.29" cy="184.53" r="0.60" fill="#e41a1c"/>
<circle cx="177.25" cy="182.43" r="0.60" fill="#e41a1c"/>
<circle cx="151.55" cy="184.60" r="0.60" fill="#e41a1c"/>
<circle cx="169.23" cy="184.60" r="0.60" fill="#e41a1c"/>
<circle cx="141.92" cy="183.15" r="0.60" fill="#e41a1c"/>
<circle cx="154.04" cy="183.60" r="0.60" fill="#e41a1c"/>
<circle cx="153.29" cy="183.26" r="0.60" fill="#e41a1c"/>
<circle cx="155.67" cy="184.60" r="0.60" fill="#e41a1c"/>
<circle cx="141.98" cy="184.40" r="0.60" fill="#e41a1c"/>
<circle cx="164.46" cy="183.09" r="0.60" fill="#e41a1c"/>
<circle cx="143.07" cy="184.27" r="0.60" fill="#e41a1c"/>
<circle cx="151.84" cy="184.46" r="0.60" fill="#e41a1c"/>
<circle cx="144.35" cy="184.59" r="0.60" fill="#e41a1c"/>
<circle cx="158.45" cy="182.99" r="0.60" fill="#e41a1c"/>
<circle cx="143.48" cy="184.47" r="0.60" fill="#e41a1c"/>
<circle cx="173.67" cy="182.68" r="0.60" fill="#e41a1c"/>
<circle cx="145.76" cy="184.60" r="0.60" fill="#e41a1c"/>
<circle cx="182.20" cy="182.61" r="0.60" fill="#e41a1c"/>
<circle cx="156.66" cy="184.60" r="0.60" fill="#e41a1c"/>
<circle cx="181.12" cy="184.55" r="0.60" fill="#e41a1c"/>
<circle cx="179.73" cy="184.27" r="0.60" fill="#e41a1c"/>
<circle cx="174.84" cy="184.60" r="0.60" fill="#e41a1c"/>
<circle cx="172.55" cy="184.59" r="0.60" fill="#e41a1c"/>
<circle cx="153.22" cy="183.47" r="0.60" fill="#e41a1c"/>
<circle cx="175.12" cy="184.60" r="0.60" fill="#e41a1c"/>
<circle cx="146.38" cy="184.54" r="0.60" fill="#e41a1c"/>
<circle cx="158.30" cy="184.55" r="0.60" fill="#e41a1c"/>
<circle cx="143.80" cy="184.59" r="0.60" fill="#e41a1c"/>
<circle cx="169.06" cy="183.17" r="0.60" fill="#e41a1c"/>
<circle cx="142.27" cy="184.38" r="0.60" fill="#e41a1c"/>
<circle cx="170.91" cy="184.60" r="0.60" fill="#e41a1c"/>
<circle cx="175.67" cy="184.60" r="0.60" fill="#e41a1c"/>
<circle cx="162.32" cy="184.40" r="0.60" fill="#e41a1c"/>
<circle cx="163.75" cy="184.58" r="0.60" fill="#e41a1c"/>
<circle cx="153.88" cy="184.35" r="0.60" fill="#e41a1c"/>
<circle cx="154.12" cy="184.19" r="0.60" fill="#e41a1c"/>
<circle cx="155.04" cy="184.52" r="0.60" fill="#e41a1c"/>
<circle cx="142.06" cy="184.28" r="0.60" fill="#e41a1c"/>
<circle cx="156.97" cy="184.59" r="0.60" fill="#e41a1c"/>
<circle cx="171.26" cy="183.79" r="0.60" fill="#e41a1c"/>
<circle cx="155.55" cy="184.60" r="0.60" fill="#e41a1c"/>
<circle cx="156.22" cy="184.60" r="0.60" fill="#e41a1c"/>
<circle cx="143.93" cy="184.52" r="0.60" fill="#e41a1c"/>
<circle cx="143.12" cy="184.52" r="0.60" fill="#e41a1c"/>
<circle cx="157.93" cy="184.60" r="0.60" fill="#e41a1c"/>
<circle cx="164.24" cy="184.60" r="0.60" fill="#e41a1c"/>
<circle cx="169.54" cy="183.80" r="0.60" fill="#e41a1c"/>
<circle cx="158.00" cy="184.60" r="0.60" fill="#e41a1c"/>
<circle cx="157.64" cy="184.56" r="0.60" fill="#e41a1c"/>
<circle cx="182.70" cy="184.60" r="0.60" fill="#e41a1c"/>
<circle cx="176.81" cy="182.43" r="0.60" fill="#e41a1c"/>
<circle cx="169.46" cy="183.63" r="0.60" fill="#e41a1c"/>
<circle cx="145.65" cy="182.56" r="0.60" fill="#e41a1c"/>
<circle cx="157.08" cy="182.76" r="0.60" fill="#e41a1c"/>
<circle cx="180.48" cy="184.60" r="0.60" fill="#e41a1c"/>
<circle cx="172.70" cy="182.95" r="0.60" fill="#e41a1c"/>
<circle cx="142.64" cy="184.57" r="0.60" fill="#e41a1c"/>
<circle cx="170.83" cy="184.60" r="0.60" fill="#e41a1c"/>
<circle cx="179.25" cy="184.59" r="0.60" fill="#e41a1c"/>
<circle cx="174.31" cy="184.60" r="0.60" fill="#e41a1c"/>
<circle cx="157.56" cy="183.02" r="0.60" fill="#e41a1c"/>
<circle cx="146.08" cy="184.59" r="0.60" fill="#e41a1c"/>
<circle cx="157.74" cy="184.58" r="0.60" fill="#e41a1c"/>
<circle cx="142.21" cy="184.60" r="0.60" fill="#e41a1c"/>
<circle cx="144.75" cy="182.91" r="0.60" fill="#e41a1c"/>
<circle cx="166.56" cy="183.19" r="0.60" fill="#e41a1c"/>
<circle cx="144.95" cy="183.77" r="0.60" fill="#e41a1c"/>
<circle cx="143.62" cy="184.43" r="0.60" fill="#e41a1c"/>
<circle cx="164.23" cy="184.56" r="0.60" fill="#e41a1c"/>
<circle cx="177.79" cy="184.39" r="0.60" fill="#e41a1c"/>
<circle cx="161.34" cy="183.27" r="0.60" fill="#e41a1c"/>
<circle cx="143.39" cy="182.46" r="0.60" fill="#e41a1c"/>
<circle cx="163.89" cy="184.55" r="0.60" fill="#e41a1c"/>
<circle cx="173.25" cy="184.59" r="0.60" fill="#e41a1c"/>
<circle cx="185.27" cy="184.36" r="0.60" fill="#e41a1c"/>
<circle cx="151.41" cy="183.85" r="0.60" fill="#e41a1c"/>
<circle cx="154.84" cy="184.60" r="0.60" fill="#e41a1c"/>
<circle cx="170.11" cy="184.60" r="0.60" fill="#e41a1c"/>
<circle cx="174.56" cy="184.59" r="0.60" fill="#e41a1c"/>
<circle cx="164.39" cy="182.54" r="0.60" fill="#e41a1c"/>
<circle cx="161.63" cy="184.17" r="0.60" fill="#e41a1c"/>
<circle cx="149.59" cy="184.60" r="0.60" fill="#e41a1c"/>
<circle cx="142.17" cy="184.60" r="0.60" fill="#e41a1c"/>
<circle cx="163.18" cy="184.52" r="0.60" fill="#e41a1c"/>
<circle cx="143.95" cy="184.10" r="0.60" fill="#e41a1c"/>
<circle cx="142.35" cy="180.84" r="0.60" fill="#e41a1c"/>
<circle cx="144.54" cy="182.19" r="0.60" fill="#e41a1c"/>
<circle cx="141.81" cy="181.05" r="0.60" fill="#e41a1c"/>
<circle cx="142.25" cy="181.36" r="0.60" fill="#e41a1c"/>
<circle cx="142.74" cy="182.65" r="0.60" fill="#e41a1c"/>
<circle cx="144.27" cy="182.37" r="0.60" fill="#e41a1c"/>
<circle cx="144.42" cy="183.14" r="0.60" fill="#e41a1c"/>
<circle cx="142.37" cy="184.11" r="0.60" fill="#e41a1c"/>
<circle cx="142.82" cy="180.91" r="0.60" fill="#e41a1c"/>
<circle cx="142.20" cy="182.67" r="0.60" fill="#e41a1c"/>
<circle cx="145.46" cy="184.12" r="0.60" fill="#e41a1c"/>
<circle cx="143.49" cy="181.90" r="0.60" fill="#e41a1c"/>
<circle cx="141.85" cy="182.57" r="0.60" fill="#e41a1c"/>
<circle cx="144.16" cy="182.67" r="0.60" fill="#e41a1c"/>
<circle cx="144.51" cy="183.12" r="0.60" fill="#e41a1c"/>
<circle cx="145.74" cy="184.14" r="0.60" fill="#e41a1c"/>
<circle cx="142.84" cy="184.01" r="0.60" fill="#e41a1c"/>
<circle cx="141.98" cy="182.06" r="0.60" fill="#e41a1c"/>
<circle cx="143.51" cy="181.83" r="0.60" fill="#e41a1c"/>
<circle cx="142.05" cy="183.31" r="0.60" fill="#e41a1c"/>
<circle cx="141.85" cy="182.09" r="0.60" fill="#e41a1c"/>
<circle cx="145.75" cy="183.57" r="0.60" fill="#e41a1c"/>
<circle cx="142.64" cy="182.71" r="0.60" fill="#e41a1c"/>
<circle cx="143.93" cy="183.35" r="0.60" fill="#e41a1c"/>
<circle cx="145.22" cy="183.13" r="0.60" fill="#e41a1c"/>
<circle cx="143.10" cy="181.74" r="0.60" fill="#e41a1c"/>
<circle cx="142.00" cy="183.85" r="0.60" fill="#e41a1c"/>
<circle cx="145.09" cy="183.92" r="0.60" fill="#e41a1c"/>
<circle cx="141.83" cy="183.60" r="0.60" fill="#e41a1c"/>
<circle cx="142.60" cy="172.70" r="0.75" fill="#e41a1c"/>
<circle cx="142.40" cy="178.00" r="0.75" fill="#e41a1c"/>
<circle cx="152.50" cy="180.50" r="0.75" fill="#e41a1c"/>
<circle cx="144.00" cy="180.00" r="0.75" fill="#e41a1c"/>
<circle cx="160.00" cy="182.50" r="0.75" fill="#e41a1c"/>
<circle cx="170.00" cy="183.00" r="0.75" fill="#e41a1c"/>
<circle cx="175.00" cy="182.80" r="0.75" fill="#e41a1c"/>
<text x="129.30" y="37.20" font-size="7.5" text-anchor="middle" font-weight="bold" fill="#111">log2FC=1</text>
<text x="188.00" y="183.30" font-size="7.5" text-anchor="start" font-weight="bold" fill="#111">P=0.05</text>
<text x="154.50" y="57.40" font-size="8.9" text-anchor="start" fill="#222">Group</text>
<circle cx="163.00" cy="67.20" r="3.00" fill="#e41a1c"/>
<text x="174.60" y="69.70" font-size="7.5" text-anchor="start" fill="#222">up</text>
<circle cx="163.00" cy="80.45" r="3.00" fill="#3b57a0"/>
<text x="174.60" y="82.95" font-size="7.5" text-anchor="start" fill="#222">down</text>
<circle cx="163.00" cy="93.70" r="3.00" fill="#7f7f7f"/>
<text x="174.60" y="96.20" font-size="7.5" text-anchor="start" fill="#222">unchange</text>
<text x="227.40" y="13.20" font-size="14.5" text-anchor="start" font-weight="bold" fill="#000">B</text>
<text x="246.60" y="25.60" font-size="8.8" text-anchor="start" font-weight="bold" fill="#111">Upregulated KEGG Pathways Enrichment</text>
<line x1="340.20" y1="33.60" x2="340.20" y2="244.20" stroke="#f2f2f2" stroke-width="0.5"/>
<line x1="355.80" y1="33.60" x2="355.80" y2="244.20" stroke="#f2f2f2" stroke-width="0.5"/>
<line x1="371.30" y1="33.60" x2="371.30" y2="244.20" stroke="#f2f2f2" stroke-width="0.5"/>
<line x1="386.70" y1="33.60" x2="386.70" y2="244.20" stroke="#f2f2f2" stroke-width="0.5"/>
<line x1="348.00" y1="33.60" x2="348.00" y2="244.20" stroke="#e6e6e6" stroke-width="0.6"/>
<line x1="363.60" y1="33.60" x2="363.60" y2="244.20" stroke="#e6e6e6" stroke-width="0.6"/>
<line x1="379.00" y1="33.60" x2="379.00" y2="244.20" stroke="#e6e6e6" stroke-width="0.6"/>
<line x1="394.40" y1="33.60" x2="394.40" y2="244.20" stroke="#e6e6e6" stroke-width="0.6"/>
<line x1="338.40" y1="39.50" x2="401.60" y2="39.50" stroke="#e6e6e6" stroke-width="0.6"/>
<line x1="338.40" y1="49.98" x2="401.60" y2="49.98" stroke="#e6e6e6" stroke-width="0.6"/>
<line x1="338.40" y1="60.46" x2="401.60" y2="60.46" stroke="#e6e6e6" stroke-width="0.6"/>
<line x1="338.40" y1="70.94" x2="401.60" y2="70.94" stroke="#e6e6e6" stroke-width="0.6"/>
<line x1="338.40" y1="81.42" x2="401.60" y2="81.42" stroke="#e6e6e6" stroke-width="0.6"/>
<line x1="338.40" y1="91.90" x2="401.60" y2="91.90" stroke="#e6e6e6" stroke-width="0.6"/>
<line x1="338.40" y1="102.38" x2="401.60" y2="102.38" stroke="#e6e6e6" stroke-width="0.6"/>
<line x1="338.40" y1="112.86" x2="401.60" y2="112.86" stroke="#e6e6e6" stroke-width="0.6"/>
<line x1="338.40" y1="123.34" x2="401.60" y2="123.34" stroke="#e6e6e6" stroke-width="0.6"/>
<line x1="338.40" y1="133.82" x2="401.60" y2="133.82" stroke="#e6e6e6" stroke-width="0.6"/>
<line x1="338.40" y1="144.30" x2="401.60" y2="144.30" stroke="#e6e6e6" stroke-width="0.6"/>
<line x1="338.40" y1="154.78" x2="401.60" y2="154.78" stroke="#e6e6e6" stroke-width="0.6"/>
<line x1="338.40" y1="165.26" x2="401.60" y2="165.26" stroke="#e6e6e6" stroke-width="0.6"/>
<line x1="338.40" y1="175.74" x2="401.60" y2="175.74" stroke="#e6e6e6" stroke-width="0.6"/>
<line x1="338.40" y1="186.22" x2="401.60" y2="186.22" stroke="#e6e6e6" stroke-width="0.6"/>
<line x1="338.40" y1="196.70" x2="401.60" y2="196.70" stroke="#e6e6e6" stroke-width="0.6"/>
<line x1="338.40" y1="207.18" x2="401.60" y2="207.18" stroke="#e6e6e6" stroke-width="0.6"/>
<line x1="338.40" y1="217.66" x2="401.60" y2="217.66" stroke="#e6e6e6" stroke-width="0.6"/>
<line x1="338.40" y1="228.14" x2="401.60" y2="228.14" stroke="#e6e6e6" stroke-width="0.6"/>
<line x1="338.40" y1="238.62" x2="401.60" y2="238.62" stroke="#e6e6e6" stroke-width="0.6"/>
<rect x="338.4" y="33.6" width="63.20" height="210.60" fill="none" stroke="#8c8c8c" stroke-width="0.6"/>
<line x1="336.10" y1="39.50" x2="338.40" y2="39.50" stroke="#444" stroke-width="0.5"/>
<text x="335.20" y="40.55" font-size="7.58" text-anchor="end" fill="#2a2a2a">Asthma</text>
<circle cx="398.40" cy="39.50" r="1.85" fill="#68fa1a"/>
<line x1="336.10" y1="49.98" x2="338.40" y2="49.98" stroke="#444" stroke-width="0.5"/>
<text x="335.20" y="51.09" font-size="7.58" text-anchor="end" fill="#2a2a2a">Viral myocarditis</text>
<circle cx="381.40" cy="49.98" r="2.95" fill="#fd3212"/>
<line x1="336.10" y1="60.46" x2="338.40" y2="60.46" stroke="#444" stroke-width="0.5"/>
<text x="335.20" y="61.63" font-size="7.58" text-anchor="end" fill="#2a2a2a">p53 signaling pathway</text>
<circle cx="380.40" cy="60.46" r="2.95" fill="#f83c16"/>
<line x1="336.10" y1="70.94" x2="338.40" y2="70.94" stroke="#444" stroke-width="0.5"/>
<text x="335.20" y="72.17" font-size="7.58" text-anchor="end" fill="#2a2a2a">Staphylococcus aureus infection</text>
<circle cx="370.40" cy="70.94" r="2.65" fill="#b4bf30"/>
<line x1="336.10" y1="81.42" x2="338.40" y2="81.42" stroke="#444" stroke-width="0.5"/>
<text x="335.20" y="82.71" font-size="7.58" text-anchor="end" fill="#2a2a2a">Toxoplasmosis</text>
<circle cx="363.20" cy="81.42" r="2.95" fill="#d67f2b"/>
<line x1="336.10" y1="91.90" x2="338.40" y2="91.90" stroke="#444" stroke-width="0.5"/>
<text x="335.20" y="93.25" font-size="7.58" text-anchor="end" fill="#2a2a2a">Antigen processing and presentation</text>
<circle cx="360.40" cy="91.90" r="2.65" fill="#96e830"/>
<line x1="336.10" y1="102.38" x2="338.40" y2="102.38" stroke="#444" stroke-width="0.5"/>
<text x="335.20" y="103.79" font-size="7.58" text-anchor="end" fill="#2a2a2a">Complement and coagulation cascades</text>
<circle cx="358.00" cy="102.38" r="2.65" fill="#96e830"/>
<line x1="336.10" y1="112.86" x2="338.40" y2="112.86" stroke="#444" stroke-width="0.5"/>
<text x="335.20" y="114.33" font-size="7.58" text-anchor="end" fill="#2a2a2a">Cardiac muscle contraction</text>
<circle cx="352.60" cy="112.86" r="2.65" fill="#84f329"/>
<line x1="336.10" y1="123.34" x2="338.40" y2="123.34" stroke="#444" stroke-width="0.5"/>
<text x="335.20" y="124.87" font-size="7.58" text-anchor="end" fill="#2a2a2a">Hypertrophic cardiomyopathy</text>
<circle cx="350.80" cy="123.34" r="2.65" fill="#84f329"/>
<line x1="336.10" y1="133.82" x2="338.40" y2="133.82" stroke="#444" stroke-width="0.5"/>
<text x="335.20" y="135.41" font-size="7.58" text-anchor="end" fill="#2a2a2a">Influenza A</text>
<circle cx="350.60" cy="133.82" r="3.15" fill="#b6bb30"/>
<line x1="336.10" y1="144.30" x2="338.40" y2="144.30" stroke="#444" stroke-width="0.5"/>
<text x="335.20" y="145.95" font-size="7.58" text-anchor="end" fill="#2a2a2a">Phosphatidylinositol signaling system</text>
<circle cx="350.20" cy="144.30" r="2.65" fill="#76f722"/>
<line x1="336.10" y1="154.78" x2="338.40" y2="154.78" stroke="#444" stroke-width="0.5"/>
<text x="335.20" y="156.49" font-size="7.58" text-anchor="end" fill="#2a2a2a">Chagas disease</text>
<circle cx="350.20" cy="154.78" r="2.65" fill="#76f722"/>
<line x1="336.10" y1="165.26" x2="338.40" y2="165.26" stroke="#444" stroke-width="0.5"/>
<text x="335.20" y="167.03" font-size="7.58" text-anchor="end" fill="#2a2a2a">Dilated cardiomyopathy</text>
<circle cx="349.80" cy="165.26" r="2.65" fill="#76f722"/>
<line x1="336.10" y1="175.74" x2="338.40" y2="175.74" stroke="#444" stroke-width="0.5"/>
<text x="335.20" y="177.57" font-size="7.58" text-anchor="end" fill="#2a2a2a">Glycerophospholipid metabolism</text>
<circle cx="348.60" cy="175.74" r="2.65" fill="#76f722"/>
<line x1="336.10" y1="186.22" x2="338.40" y2="186.22" stroke="#444" stroke-width="0.5"/>
<text x="335.20" y="188.11" font-size="7.58" text-anchor="end" fill="#2a2a2a">Calcium signaling pathway</text>
<circle cx="348.20" cy="186.22" r="3.65" fill="#ed581f"/>
<line x1="336.10" y1="196.70" x2="338.40" y2="196.70" stroke="#444" stroke-width="0.5"/>
<text x="335.20" y="198.65" font-size="7.58" text-anchor="end" fill="#2a2a2a">mRNA surveillance pathway</text>
<circle cx="348.20" cy="196.70" r="2.65" fill="#6ef91d"/>
<line x1="336.10" y1="207.18" x2="338.40" y2="207.18" stroke="#444" stroke-width="0.5"/>
<text x="335.20" y="209.19" font-size="7.58" text-anchor="end" fill="#2a2a2a">Tuberculosis</text>
<circle cx="348.00" cy="207.18" r="2.95" fill="#abcb30"/>
<line x1="336.10" y1="217.66" x2="338.40" y2="217.66" stroke="#444" stroke-width="0.5"/>
<text x="335.20" y="219.73" font-size="7.58" text-anchor="end" fill="#2a2a2a">Lipid and atherosclerosis</text>
<circle cx="342.00" cy="217.66" r="2.95" fill="#91ef30"/>
<line x1="336.10" y1="228.14" x2="338.40" y2="228.14" stroke="#444" stroke-width="0.5"/>
<text x="335.20" y="230.27" font-size="7.58" text-anchor="end" fill="#2a2a2a">Kaposi sarcoma-associated…</text>
<circle cx="342.00" cy="228.14" r="2.95" fill="#91ef30"/>
<line x1="336.10" y1="238.62" x2="338.40" y2="238.62" stroke="#444" stroke-width="0.5"/>
<text x="335.20" y="240.81" font-size="7.58" text-anchor="end" fill="#2a2a2a">Neuroactive ligand-receptor interaction</text>
<circle cx="341.20" cy="238.62" r="3.65" fill="#bab330"/>
<line x1="348.00" y1="244.20" x2="348.00" y2="246.20" stroke="#444" stroke-width="0.5"/>
<text x="348.00" y="252.00" font-size="5.9" text-anchor="middle" fill="#333">0.02</text>
<line x1="363.60" y1="244.20" x2="363.60" y2="246.20" stroke="#444" stroke-width="0.5"/>
<text x="363.60" y="252.00" font-size="5.9" text-anchor="middle" fill="#333">0.03</text>
<line x1="379.00" y1="244.20" x2="379.00" y2="246.20" stroke="#444" stroke-width="0.5"/>
<text x="379.00" y="252.00" font-size="5.9" text-anchor="middle" fill="#333">0.04</text>
<line x1="394.40" y1="244.20" x2="394.40" y2="246.20" stroke="#444" stroke-width="0.5"/>
<text x="394.40" y="252.00" font-size="5.9" text-anchor="middle" fill="#333">0.05</text>
<text x="369.60" y="260.00" font-size="7.8" text-anchor="middle" fill="#222">Enrichment</text>
<defs><linearGradient id="gB" x1="0" y1="0" x2="0" y2="1"><stop offset="0.00" stop-color="#ff2c10"/><stop offset="0.05" stop-color="#fa3914"/><stop offset="0.10" stop-color="#f44619"/><stop offset="0.15" stop-color="#ef521d"/><stop offset="0.20" stop-color="#e95f21"/><stop offset="0.25" stop-color="#e26a25"/><stop offset="0.30" stop-color="#db7628"/><stop offset="0.35" stop-color="#d4822c"/><stop offset="0.40" stop-color="#cd8e2f"/><stop offset="0.45" stop-color="#c79a30"/><stop offset="0.50" stop-color="#c1a630"/><stop offset="0.55" stop-color="#bbb230"/><stop offset="0.60" stop-color="#b5be30"/><stop offset="0.65" stop-color="#afc730"/><stop offset="0.70" stop-color="#a8d030"/><stop offset="0.75" stop-color="#9edd30"/><stop offset="0.80" stop-color="#94eb30"/><stop offset="0.85" stop-color="#86f22b"/><stop offset="0.90" stop-color="#76f722"/><stop offset="0.95" stop-color="#65fb19"/><stop offset="1.00" stop-color="#55ff10"/></linearGradient></defs>
<rect x="410.60" y="84.00" width="9.60" height="49.20" fill="url(#gB)"/>
<line x1="410.60" y1="93.30" x2="412.60" y2="93.30" stroke="#fff" stroke-width="0.5"/>
<line x1="418.20" y1="93.30" x2="420.20" y2="93.30" stroke="#fff" stroke-width="0.5"/>
<text x="423.50" y="95.40" font-size="5.9" text-anchor="start" fill="#333">2.00</text>
<line x1="410.60" y1="103.50" x2="412.60" y2="103.50" stroke="#fff" stroke-width="0.5"/>
<line x1="418.20" y1="103.50" x2="420.20" y2="103.50" stroke="#fff" stroke-width="0.5"/>
<text x="423.50" y="105.60" font-size="5.9" text-anchor="start" fill="#333">1.75</text>
<line x1="410.60" y1="113.90" x2="412.60" y2="113.90" stroke="#fff" stroke-width="0.5"/>
<line x1="418.20" y1="113.90" x2="420.20" y2="113.90" stroke="#fff" stroke-width="0.5"/>
<text x="423.50" y="116.00" font-size="5.9" text-anchor="start" fill="#333">1.50</text>
<line x1="410.60" y1="124.20" x2="412.60" y2="124.20" stroke="#fff" stroke-width="0.5"/>
<line x1="418.20" y1="124.20" x2="420.20" y2="124.20" stroke="#fff" stroke-width="0.5"/>
<text x="423.50" y="126.30" font-size="5.9" text-anchor="start" fill="#333">1.25</text>
<text x="410.8" y="78.6" font-size="6.8" fill="#222">−log<tspan font-size="4.6" dy="1.4">10</tspan><tspan dy="-1.4">(pvalue)</tspan></text>
<text x="410.60" y="150.70" font-size="6.9" text-anchor="start" fill="#222">count</text>
<circle cx="415.40" cy="160.60" r="1.40" fill="#000"/>
<text x="424.00" y="162.70" font-size="5.9" text-anchor="start" fill="#222">1</text>
<circle cx="415.40" cy="170.40" r="2.30" fill="#000"/>
<text x="424.00" y="172.50" font-size="5.9" text-anchor="start" fill="#222">2</text>
<circle cx="415.40" cy="180.40" r="2.80" fill="#000"/>
<text x="424.00" y="182.50" font-size="5.9" text-anchor="start" fill="#222">3</text>
<circle cx="415.40" cy="190.20" r="3.20" fill="#000"/>
<text x="424.00" y="192.30" font-size="5.9" text-anchor="start" fill="#222">4</text>
<circle cx="415.40" cy="200.20" r="3.50" fill="#000"/>
<text x="424.00" y="202.30" font-size="5.9" text-anchor="start" fill="#222">5</text>
<text x="448.00" y="13.20" font-size="14.5" text-anchor="start" font-weight="bold" fill="#000">C</text>
<text x="470.00" y="24.40" font-size="8.8" text-anchor="start" font-weight="bold" fill="#111">Downregulated KEGG Pathways Enrichment</text>
<line x1="578.50" y1="31.40" x2="578.50" y2="248.20" stroke="#f2f2f2" stroke-width="0.5"/>
<line x1="595.90" y1="31.40" x2="595.90" y2="248.20" stroke="#f2f2f2" stroke-width="0.5"/>
<line x1="613.20" y1="31.40" x2="613.20" y2="248.20" stroke="#f2f2f2" stroke-width="0.5"/>
<line x1="587.20" y1="31.40" x2="587.20" y2="248.20" stroke="#e6e6e6" stroke-width="0.6"/>
<line x1="604.60" y1="31.40" x2="604.60" y2="248.20" stroke="#e6e6e6" stroke-width="0.6"/>
<line x1="621.80" y1="31.40" x2="621.80" y2="248.20" stroke="#e6e6e6" stroke-width="0.6"/>
<line x1="571.40" y1="37.60" x2="630.40" y2="37.60" stroke="#e6e6e6" stroke-width="0.6"/>
<line x1="571.40" y1="48.38" x2="630.40" y2="48.38" stroke="#e6e6e6" stroke-width="0.6"/>
<line x1="571.40" y1="59.16" x2="630.40" y2="59.16" stroke="#e6e6e6" stroke-width="0.6"/>
<line x1="571.40" y1="69.94" x2="630.40" y2="69.94" stroke="#e6e6e6" stroke-width="0.6"/>
<line x1="571.40" y1="80.72" x2="630.40" y2="80.72" stroke="#e6e6e6" stroke-width="0.6"/>
<line x1="571.40" y1="91.50" x2="630.40" y2="91.50" stroke="#e6e6e6" stroke-width="0.6"/>
<line x1="571.40" y1="102.28" x2="630.40" y2="102.28" stroke="#e6e6e6" stroke-width="0.6"/>
<line x1="571.40" y1="113.06" x2="630.40" y2="113.06" stroke="#e6e6e6" stroke-width="0.6"/>
<line x1="571.40" y1="123.84" x2="630.40" y2="123.84" stroke="#e6e6e6" stroke-width="0.6"/>
<line x1="571.40" y1="134.62" x2="630.40" y2="134.62" stroke="#e6e6e6" stroke-width="0.6"/>
<line x1="571.40" y1="145.40" x2="630.40" y2="145.40" stroke="#e6e6e6" stroke-width="0.6"/>
<line x1="571.40" y1="156.18" x2="630.40" y2="156.18" stroke="#e6e6e6" stroke-width="0.6"/>
<line x1="571.40" y1="166.96" x2="630.40" y2="166.96" stroke="#e6e6e6" stroke-width="0.6"/>
<line x1="571.40" y1="177.74" x2="630.40" y2="177.74" stroke="#e6e6e6" stroke-width="0.6"/>
<line x1="571.40" y1="188.52" x2="630.40" y2="188.52" stroke="#e6e6e6" stroke-width="0.6"/>
<line x1="571.40" y1="199.30" x2="630.40" y2="199.30" stroke="#e6e6e6" stroke-width="0.6"/>
<line x1="571.40" y1="210.08" x2="630.40" y2="210.08" stroke="#e6e6e6" stroke-width="0.6"/>
<line x1="571.40" y1="220.86" x2="630.40" y2="220.86" stroke="#e6e6e6" stroke-width="0.6"/>
<line x1="571.40" y1="231.64" x2="630.40" y2="231.64" stroke="#e6e6e6" stroke-width="0.6"/>
<line x1="571.40" y1="242.42" x2="630.40" y2="242.42" stroke="#e6e6e6" stroke-width="0.6"/>
<rect x="571.4" y="31.4" width="59.00" height="216.80" fill="none" stroke="#8c8c8c" stroke-width="0.6"/>
<line x1="569.10" y1="37.60" x2="571.40" y2="37.60" stroke="#444" stroke-width="0.5"/>
<text x="568.20" y="38.65" font-size="7.55" text-anchor="end" fill="#2a2a2a">D-Amino acid metabolism</text>
<circle cx="627.60" cy="37.60" r="1.85" fill="#c79b30"/>
<line x1="569.10" y1="48.38" x2="571.40" y2="48.38" stroke="#444" stroke-width="0.5"/>
<text x="568.20" y="49.49" font-size="7.55" text-anchor="end" fill="#2a2a2a">Maturity onset diabetes of the young</text>
<circle cx="600.00" cy="48.38" r="3.15" fill="#fe2f11"/>
<line x1="569.10" y1="59.16" x2="571.40" y2="59.16" stroke="#444" stroke-width="0.5"/>
<text x="568.20" y="60.33" font-size="7.55" text-anchor="end" fill="#2a2a2a">Glycosaminoglycan biosynthesis – hep…</text>
<circle cx="598.60" cy="59.16" r="3.15" fill="#fa3814"/>
<line x1="569.10" y1="69.94" x2="571.40" y2="69.94" stroke="#444" stroke-width="0.5"/>
<text x="568.20" y="71.17" font-size="7.55" text-anchor="end" fill="#2a2a2a">Linoleic acid metabolism</text>
<circle cx="591.40" cy="69.94" r="3.15" fill="#e76323"/>
<line x1="569.10" y1="80.72" x2="571.40" y2="80.72" stroke="#444" stroke-width="0.5"/>
<text x="568.20" y="82.01" font-size="7.55" text-anchor="end" fill="#2a2a2a">African trypanosomiasis</text>
<circle cx="590.60" cy="80.72" r="3.15" fill="#e76323"/>
<line x1="569.10" y1="91.50" x2="571.40" y2="91.50" stroke="#444" stroke-width="0.5"/>
<text x="568.20" y="92.85" font-size="7.55" text-anchor="end" fill="#2a2a2a">Taurine and hypotaurine metabolism</text>
<circle cx="590.00" cy="91.50" r="1.85" fill="#76f622"/>
<line x1="569.10" y1="102.28" x2="571.40" y2="102.28" stroke="#444" stroke-width="0.5"/>
<text x="568.20" y="103.69" font-size="7.55" text-anchor="end" fill="#2a2a2a">Alanine, aspartate and glutamate…</text>
<circle cx="588.40" cy="102.28" r="3.15" fill="#e26b25"/>
<line x1="569.10" y1="113.06" x2="571.40" y2="113.06" stroke="#444" stroke-width="0.5"/>
<text x="568.20" y="114.53" font-size="7.55" text-anchor="end" fill="#2a2a2a">Folate biosynthesis</text>
<circle cx="584.60" cy="113.06" r="1.85" fill="#6bf91c"/>
<line x1="569.10" y1="123.84" x2="571.40" y2="123.84" stroke="#444" stroke-width="0.5"/>
<text x="568.20" y="125.37" font-size="7.55" text-anchor="end" fill="#2a2a2a">alpha-Linolenic acid metabolism</text>
<circle cx="584.20" cy="123.84" r="1.85" fill="#76f622"/>
<line x1="569.10" y1="134.62" x2="571.40" y2="134.62" stroke="#444" stroke-width="0.5"/>
<text x="568.20" y="136.21" font-size="7.55" text-anchor="end" fill="#2a2a2a">Type I diabetes mellitus</text>
<circle cx="583.80" cy="134.62" r="3.15" fill="#c79b30"/>
<line x1="569.10" y1="145.40" x2="571.40" y2="145.40" stroke="#444" stroke-width="0.5"/>
<text x="568.20" y="147.05" font-size="7.55" text-anchor="end" fill="#2a2a2a">Butanoate metabolism</text>
<circle cx="583.60" cy="145.40" r="1.85" fill="#6bf91c"/>
<line x1="569.10" y1="156.18" x2="571.40" y2="156.18" stroke="#444" stroke-width="0.5"/>
<text x="568.20" y="157.89" font-size="7.55" text-anchor="end" fill="#2a2a2a">Arachidonic acid metabolism</text>
<circle cx="581.60" cy="156.18" r="3.15" fill="#bab330"/>
<line x1="569.10" y1="166.96" x2="571.40" y2="166.96" stroke="#444" stroke-width="0.5"/>
<text x="568.20" y="168.73" font-size="7.55" text-anchor="end" fill="#2a2a2a">NF-κB signaling pathway</text>
<circle cx="581.00" cy="166.96" r="3.65" fill="#ef521d"/>
<line x1="569.10" y1="177.74" x2="571.40" y2="177.74" stroke="#444" stroke-width="0.5"/>
<text x="568.20" y="179.57" font-size="7.55" text-anchor="end" fill="#2a2a2a">β-Alanine metabolism</text>
<circle cx="580.80" cy="177.74" r="1.85" fill="#6bf91c"/>
<line x1="569.10" y1="188.52" x2="571.40" y2="188.52" stroke="#444" stroke-width="0.5"/>
<text x="568.20" y="190.41" font-size="7.55" text-anchor="end" fill="#2a2a2a">Synaptic vesicle cycle</text>
<circle cx="579.00" cy="188.52" r="3.15" fill="#afc630"/>
<line x1="569.10" y1="199.30" x2="571.40" y2="199.30" stroke="#444" stroke-width="0.5"/>
<text x="568.20" y="201.25" font-size="7.55" text-anchor="end" fill="#2a2a2a">Tyrosine metabolism</text>
<circle cx="578.60" cy="199.30" r="1.85" fill="#6bf91c"/>
<line x1="569.10" y1="210.08" x2="571.40" y2="210.08" stroke="#444" stroke-width="0.5"/>
<text x="568.20" y="212.09" font-size="7.55" text-anchor="end" fill="#2a2a2a">Bile secretion</text>
<circle cx="578.40" cy="210.08" r="3.15" fill="#acca30"/>
<line x1="569.10" y1="220.86" x2="571.40" y2="220.86" stroke="#444" stroke-width="0.5"/>
<text x="568.20" y="222.93" font-size="7.55" text-anchor="end" fill="#2a2a2a">Protein digestion and absorption</text>
<circle cx="577.20" cy="220.86" r="3.15" fill="#9ce130"/>
<line x1="569.10" y1="231.64" x2="571.40" y2="231.64" stroke="#444" stroke-width="0.5"/>
<text x="568.20" y="233.77" font-size="7.55" text-anchor="end" fill="#2a2a2a">Cell adhesion molecules</text>
<circle cx="576.40" cy="231.64" r="3.65" fill="#bab330"/>
<line x1="569.10" y1="242.42" x2="571.40" y2="242.42" stroke="#444" stroke-width="0.5"/>
<text x="568.20" y="244.61" font-size="7.55" text-anchor="end" fill="#2a2a2a">Neuroactive ligand-receptor interaction</text>
<circle cx="574.00" cy="242.42" r="3.95" fill="#9ce130"/>
<line x1="587.20" y1="248.20" x2="587.20" y2="250.20" stroke="#444" stroke-width="0.5"/>
<text x="587.20" y="256.00" font-size="5.9" text-anchor="middle" fill="#333">0.05</text>
<line x1="604.60" y1="248.20" x2="604.60" y2="250.20" stroke="#444" stroke-width="0.5"/>
<text x="604.60" y="256.00" font-size="5.9" text-anchor="middle" fill="#333">0.10</text>
<line x1="621.80" y1="248.20" x2="621.80" y2="250.20" stroke="#444" stroke-width="0.5"/>
<text x="621.80" y="256.00" font-size="5.9" text-anchor="middle" fill="#333">0.15</text>
<text x="600.70" y="264.00" font-size="7.8" text-anchor="middle" fill="#222">Enrichment</text>
<defs><linearGradient id="gC" x1="0" y1="0" x2="0" y2="1"><stop offset="0.00" stop-color="#ff2c10"/><stop offset="0.05" stop-color="#fa3914"/><stop offset="0.10" stop-color="#f44619"/><stop offset="0.15" stop-color="#ef521d"/><stop offset="0.20" stop-color="#e95f21"/><stop offset="0.25" stop-color="#e26a25"/><stop offset="0.30" stop-color="#db7628"/><stop offset="0.35" stop-color="#d4822c"/><stop offset="0.40" stop-color="#cd8e2f"/><stop offset="0.45" stop-color="#c79a30"/><stop offset="0.50" stop-color="#c1a630"/><stop offset="0.55" stop-color="#bbb230"/><stop offset="0.60" stop-color="#b5be30"/><stop offset="0.65" stop-color="#afc730"/><stop offset="0.70" stop-color="#a8d030"/><stop offset="0.75" stop-color="#9edd30"/><stop offset="0.80" stop-color="#94eb30"/><stop offset="0.85" stop-color="#86f22b"/><stop offset="0.90" stop-color="#76f722"/><stop offset="0.95" stop-color="#65fb19"/><stop offset="1.00" stop-color="#55ff10"/></linearGradient></defs>
<rect x="639.60" y="89.00" width="10.00" height="50.60" fill="url(#gC)"/>
<line x1="639.60" y1="96.60" x2="641.60" y2="96.60" stroke="#fff" stroke-width="0.5"/>
<line x1="647.60" y1="96.60" x2="649.60" y2="96.60" stroke="#fff" stroke-width="0.5"/>
<text x="652.90" y="98.70" font-size="5.9" text-anchor="start" fill="#333">2.0</text>
<line x1="639.60" y1="110.40" x2="641.60" y2="110.40" stroke="#fff" stroke-width="0.5"/>
<line x1="647.60" y1="110.40" x2="649.60" y2="110.40" stroke="#fff" stroke-width="0.5"/>
<text x="652.90" y="112.50" font-size="5.9" text-anchor="start" fill="#333">1.6</text>
<line x1="639.60" y1="124.20" x2="641.60" y2="124.20" stroke="#fff" stroke-width="0.5"/>
<line x1="647.60" y1="124.20" x2="649.60" y2="124.20" stroke="#fff" stroke-width="0.5"/>
<text x="652.90" y="126.30" font-size="5.9" text-anchor="start" fill="#333">1.2</text>
<line x1="639.60" y1="138.00" x2="641.60" y2="138.00" stroke="#fff" stroke-width="0.5"/>
<line x1="647.60" y1="138.00" x2="649.60" y2="138.00" stroke="#fff" stroke-width="0.5"/>
<text x="652.90" y="140.10" font-size="5.9" text-anchor="start" fill="#333">0.8</text>
<text x="640" y="82.8" font-size="6.8" fill="#222">−log<tspan font-size="4.6" dy="1.4">10</tspan><tspan dy="-1.4">(pvalue)</tspan></text>
<text x="639.60" y="157.30" font-size="6.9" text-anchor="start" fill="#222">count</text>
<circle cx="644.40" cy="167.40" r="1.50" fill="#000"/>
<text x="653.00" y="169.50" font-size="5.9" text-anchor="start" fill="#222">1</text>
<circle cx="644.40" cy="177.60" r="2.50" fill="#000"/>
<text x="653.00" y="179.70" font-size="5.9" text-anchor="start" fill="#222">2</text>
<circle cx="644.40" cy="187.60" r="3.00" fill="#000"/>
<text x="653.00" y="189.70" font-size="5.9" text-anchor="start" fill="#222">3</text>
<circle cx="644.40" cy="197.60" r="3.50" fill="#000"/>
<text x="653.00" y="199.70" font-size="5.9" text-anchor="start" fill="#222">4</text>
<text x="12.00" y="283.00" font-size="14.5" text-anchor="start" font-weight="bold" fill="#000">D</text>
<text x="96.00" y="287.40" font-size="8.8" text-anchor="start" font-weight="bold" fill="#111">Upregulated GO Terms Enrichment</text>
<line x1="152.90" y1="293.60" x2="152.90" y2="631.40" stroke="#a8a8a8" stroke-width="1.3"/>
<rect x="153.20" y="293.60" width="72.40" height="5.60" fill="#72ad4c"/>
<line x1="150.80" y1="296.40" x2="152.40" y2="296.40" stroke="#555" stroke-width="0.6"/>
<text x="150.00" y="298.88" font-size="7.5" text-anchor="end" fill="#1a1a1a">inflammatory response</text>
<rect x="153.20" y="305.26" width="73.40" height="5.60" fill="#72ad4c"/>
<line x1="150.80" y1="308.06" x2="152.40" y2="308.06" stroke="#555" stroke-width="0.6"/>
<text x="150.00" y="310.53" font-size="7.5" text-anchor="end" fill="#1a1a1a">phenol-containing compound cataboli...</text>
<rect x="153.20" y="316.91" width="74.60" height="5.60" fill="#72ad4c"/>
<line x1="150.80" y1="319.71" x2="152.40" y2="319.71" stroke="#555" stroke-width="0.6"/>
<text x="150.00" y="322.19" font-size="7.5" text-anchor="end" fill="#1a1a1a">G protein-coupled receptor signaling …</text>
<rect x="153.20" y="328.57" width="75.80" height="5.60" fill="#72ad4c"/>
<line x1="150.80" y1="331.37" x2="152.40" y2="331.37" stroke="#555" stroke-width="0.6"/>
<text x="150.00" y="333.84" font-size="7.5" text-anchor="end" fill="#1a1a1a">response to dopamine</text>
<rect x="153.20" y="340.22" width="76.40" height="5.60" fill="#72ad4c"/>
<line x1="150.80" y1="343.02" x2="152.40" y2="343.02" stroke="#555" stroke-width="0.6"/>
<text x="150.00" y="345.50" font-size="7.5" text-anchor="end" fill="#1a1a1a">cellular response to dopamine</text>
<rect x="153.20" y="351.88" width="79.20" height="5.60" fill="#72ad4c"/>
<line x1="150.80" y1="354.68" x2="152.40" y2="354.68" stroke="#555" stroke-width="0.6"/>
<text x="150.00" y="357.15" font-size="7.5" text-anchor="end" fill="#1a1a1a">regulation of meiosis I</text>
<rect x="153.20" y="363.53" width="79.80" height="5.60" fill="#72ad4c"/>
<line x1="150.80" y1="366.33" x2="152.40" y2="366.33" stroke="#555" stroke-width="0.6"/>
<text x="150.00" y="368.81" font-size="7.5" text-anchor="end" fill="#1a1a1a">serotonin receptor signaling pathway</text>
<rect x="153.20" y="375.19" width="83.40" height="5.60" fill="#72ad4c"/>
<line x1="150.80" y1="377.99" x2="152.40" y2="377.99" stroke="#555" stroke-width="0.6"/>
<text x="150.00" y="380.46" font-size="7.5" text-anchor="end" fill="#1a1a1a">G protein-coupled serotonin receptor…</text>
<rect x="153.20" y="386.84" width="92.80" height="5.60" fill="#72ad4c"/>
<line x1="150.80" y1="389.64" x2="152.40" y2="389.64" stroke="#555" stroke-width="0.6"/>
<text x="150.00" y="392.12" font-size="7.5" text-anchor="end" fill="#1a1a1a">positive regulation of meiosis I</text>
<rect x="153.20" y="398.50" width="109.00" height="5.60" fill="#72ad4c"/>
<line x1="150.80" y1="401.30" x2="152.40" y2="401.30" stroke="#555" stroke-width="0.6"/>
<text x="150.00" y="403.78" font-size="7.5" text-anchor="end" fill="#1a1a1a">G protein-coupled receptor signaling…</text>
<path d="M153.50,293.60 H301.00 V404.10 H153.50" fill="none" stroke="#444" stroke-width="0.75"/>
<rect x="301.40" y="293.60" width="9.20" height="110.50" fill="#72ad4c"/>
<text x="304.30" y="348.85" font-size="5.2" text-anchor="middle" fill="#222" transform="rotate(90 304.30 348.85)">Biological Process</text>
<rect x="153.20" y="407.40" width="38.80" height="5.60" fill="#e07a38"/>
<line x1="150.80" y1="410.20" x2="152.40" y2="410.20" stroke="#555" stroke-width="0.6"/>
<text x="150.00" y="412.68" font-size="7.5" text-anchor="end" fill="#1a1a1a">integral component of presynaptic…</text>
<rect x="153.20" y="419.03" width="41.80" height="5.60" fill="#e07a38"/>
<line x1="150.80" y1="421.83" x2="152.40" y2="421.83" stroke="#555" stroke-width="0.6"/>
<text x="150.00" y="424.31" font-size="7.5" text-anchor="end" fill="#1a1a1a">axon terminus</text>
<rect x="153.20" y="430.67" width="43.80" height="5.60" fill="#e07a38"/>
<line x1="150.80" y1="433.47" x2="152.40" y2="433.47" stroke="#555" stroke-width="0.6"/>
<text x="150.00" y="435.94" font-size="7.5" text-anchor="end" fill="#1a1a1a">PET complex</text>
<rect x="153.20" y="442.30" width="44.80" height="5.60" fill="#e07a38"/>
<line x1="150.80" y1="445.10" x2="152.40" y2="445.10" stroke="#555" stroke-width="0.6"/>
<text x="150.00" y="447.58" font-size="7.5" text-anchor="end" fill="#1a1a1a">extracellular vesicle</text>
<rect x="153.20" y="453.93" width="48.40" height="5.60" fill="#e07a38"/>
<line x1="150.80" y1="456.73" x2="152.40" y2="456.73" stroke="#555" stroke-width="0.6"/>
<text x="150.00" y="459.21" font-size="7.5" text-anchor="end" fill="#1a1a1a">peptidase inhibitor complex</text>
<rect x="153.20" y="465.57" width="48.40" height="5.60" fill="#e07a38"/>
<line x1="150.80" y1="468.37" x2="152.40" y2="468.37" stroke="#555" stroke-width="0.6"/>
<text x="150.00" y="470.84" font-size="7.5" text-anchor="end" fill="#1a1a1a">serine protease inhibitor complex</text>
<rect x="153.20" y="477.20" width="48.40" height="5.60" fill="#e07a38"/>
<line x1="150.80" y1="480.00" x2="152.40" y2="480.00" stroke="#555" stroke-width="0.6"/>
<text x="150.00" y="482.48" font-size="7.5" text-anchor="end" fill="#1a1a1a">protease inhibitor complex</text>
<rect x="153.20" y="488.83" width="48.40" height="5.60" fill="#e07a38"/>
<line x1="150.80" y1="491.63" x2="152.40" y2="491.63" stroke="#555" stroke-width="0.6"/>
<text x="150.00" y="494.11" font-size="7.5" text-anchor="end" fill="#1a1a1a">acrosomal matrix</text>
<rect x="153.20" y="500.47" width="48.40" height="5.60" fill="#e07a38"/>
<line x1="150.80" y1="503.27" x2="152.40" y2="503.27" stroke="#555" stroke-width="0.6"/>
<text x="150.00" y="505.74" font-size="7.5" text-anchor="end" fill="#1a1a1a">chromaffin granule lumen</text>
<rect x="153.20" y="512.10" width="48.40" height="5.60" fill="#e07a38"/>
<line x1="150.80" y1="514.90" x2="152.40" y2="514.90" stroke="#555" stroke-width="0.6"/>
<text x="150.00" y="517.38" font-size="7.5" text-anchor="end" fill="#1a1a1a">perinucleolar chromocenter</text>
<path d="M153.50,407.40 H301.00 V517.70 H153.50" fill="none" stroke="#444" stroke-width="0.75"/>
<rect x="301.40" y="407.40" width="9.20" height="110.30" fill="#e07a38"/>
<text x="304.30" y="462.55" font-size="5.2" text-anchor="middle" fill="#222" transform="rotate(90 304.30 462.55)">Cellular Component</text>
<rect x="153.20" y="520.80" width="50.80" height="5.60" fill="#649ccc"/>
<line x1="150.80" y1="523.60" x2="152.40" y2="523.60" stroke="#555" stroke-width="0.6"/>
<text x="150.00" y="526.07" font-size="7.5" text-anchor="end" fill="#1a1a1a">serine-type endopeptidase inhibitor…</text>
<rect x="153.20" y="532.42" width="52.40" height="5.60" fill="#649ccc"/>
<line x1="150.80" y1="535.22" x2="152.40" y2="535.22" stroke="#555" stroke-width="0.6"/>
<text x="150.00" y="537.70" font-size="7.5" text-anchor="end" fill="#1a1a1a">sodium ion transmembrane transporte...</text>
<rect x="153.20" y="544.04" width="54.40" height="5.60" fill="#649ccc"/>
<line x1="150.80" y1="546.84" x2="152.40" y2="546.84" stroke="#555" stroke-width="0.6"/>
<text x="150.00" y="549.32" font-size="7.5" text-anchor="end" fill="#1a1a1a">solute:sodium symporter activity</text>
<rect x="153.20" y="555.67" width="72.40" height="5.60" fill="#649ccc"/>
<line x1="150.80" y1="558.47" x2="152.40" y2="558.47" stroke="#555" stroke-width="0.6"/>
<text x="150.00" y="560.94" font-size="7.5" text-anchor="end" fill="#1a1a1a">G protein-coupled amine receptor…</text>
<rect x="153.20" y="567.29" width="84.80" height="5.60" fill="#649ccc"/>
<line x1="150.80" y1="570.09" x2="152.40" y2="570.09" stroke="#555" stroke-width="0.6"/>
<text x="150.00" y="572.56" font-size="7.5" text-anchor="end" fill="#1a1a1a">serotonin receptor activity</text>
<rect x="153.20" y="578.91" width="84.80" height="5.60" fill="#649ccc"/>
<line x1="150.80" y1="581.71" x2="152.40" y2="581.71" stroke="#555" stroke-width="0.6"/>
<text x="150.00" y="584.19" font-size="7.5" text-anchor="end" fill="#1a1a1a">G protein-coupled serotonin receptor…</text>
<rect x="153.20" y="590.53" width="105.80" height="5.60" fill="#649ccc"/>
<line x1="150.80" y1="593.33" x2="152.40" y2="593.33" stroke="#555" stroke-width="0.6"/>
<text x="150.00" y="595.81" font-size="7.5" text-anchor="end" fill="#1a1a1a">molecular transducer activity</text>
<rect x="153.20" y="602.16" width="105.80" height="5.60" fill="#649ccc"/>
<line x1="150.80" y1="604.96" x2="152.40" y2="604.96" stroke="#555" stroke-width="0.6"/>
<text x="150.00" y="607.43" font-size="7.5" text-anchor="end" fill="#1a1a1a">signaling receptor activity</text>
<rect x="153.20" y="613.78" width="113.80" height="5.60" fill="#649ccc"/>
<line x1="150.80" y1="616.58" x2="152.40" y2="616.58" stroke="#555" stroke-width="0.6"/>
<text x="150.00" y="619.05" font-size="7.5" text-anchor="end" fill="#1a1a1a">transmembrane signaling receptor…</text>
<rect x="153.20" y="625.40" width="134.80" height="5.60" fill="#649ccc"/>
<line x1="150.80" y1="628.20" x2="152.40" y2="628.20" stroke="#555" stroke-width="0.6"/>
<text x="150.00" y="630.67" font-size="7.5" text-anchor="end" fill="#1a1a1a">G protein-coupled receptor activity</text>
<path d="M153.50,520.80 H301.00 V631.00 H153.50" fill="none" stroke="#444" stroke-width="0.75"/>
<rect x="301.40" y="520.80" width="9.20" height="110.20" fill="#649ccc"/>
<text x="304.30" y="575.90" font-size="5.2" text-anchor="middle" fill="#222" transform="rotate(90 304.30 575.90)">Molecular Function</text>
<line x1="153.20" y1="631.00" x2="153.20" y2="633.00" stroke="#444" stroke-width="0.5"/>
<text x="153.20" y="638.90" font-size="7.2" text-anchor="middle" fill="#222">0</text>
<line x1="178.60" y1="631.00" x2="178.60" y2="633.00" stroke="#444" stroke-width="0.5"/>
<text x="178.60" y="638.90" font-size="7.2" text-anchor="middle" fill="#222">1</text>
<line x1="204.00" y1="631.00" x2="204.00" y2="633.00" stroke="#444" stroke-width="0.5"/>
<text x="204.00" y="638.90" font-size="7.2" text-anchor="middle" fill="#222">2</text>
<line x1="229.40" y1="631.00" x2="229.40" y2="633.00" stroke="#444" stroke-width="0.5"/>
<text x="229.40" y="638.90" font-size="7.2" text-anchor="middle" fill="#222">3</text>
<line x1="254.80" y1="631.00" x2="254.80" y2="633.00" stroke="#444" stroke-width="0.5"/>
<text x="254.80" y="638.90" font-size="7.2" text-anchor="middle" fill="#222">4</text>
<line x1="280.20" y1="631.00" x2="280.20" y2="633.00" stroke="#444" stroke-width="0.5"/>
<text x="280.20" y="638.90" font-size="7.2" text-anchor="middle" fill="#222">5</text>
<text x="221.30" y="649.40" font-size="8.75" text-anchor="middle" fill="#222">-log10(P-value)</text>
<text x="338.60" y="286.00" font-size="14.5" text-anchor="start" font-weight="bold" fill="#000">E</text>
<text x="424.40" y="285.20" font-size="8.8" text-anchor="start" font-weight="bold" fill="#111">Downregulated GO Terms Enrichment</text>
<line x1="501.50" y1="291.20" x2="501.50" y2="635.50" stroke="#a8a8a8" stroke-width="1.3"/>
<rect x="501.80" y="291.20" width="17.20" height="5.40" fill="#72ad4c"/>
<line x1="499.40" y1="293.90" x2="501.00" y2="293.90" stroke="#555" stroke-width="0.6"/>
<text x="498.80" y="296.64" font-size="8.3" text-anchor="end" fill="#1a1a1a">positive regulation of dendritic spine mor…</text>
<rect x="501.80" y="303.07" width="19.80" height="5.40" fill="#72ad4c"/>
<line x1="499.40" y1="305.77" x2="501.00" y2="305.77" stroke="#555" stroke-width="0.6"/>
<text x="498.80" y="308.51" font-size="8.3" text-anchor="end" fill="#1a1a1a">regulation of synapse assembly</text>
<rect x="501.80" y="314.93" width="20.40" height="5.40" fill="#72ad4c"/>
<line x1="499.40" y1="317.63" x2="501.00" y2="317.63" stroke="#555" stroke-width="0.6"/>
<text x="498.80" y="320.37" font-size="8.3" text-anchor="end" fill="#1a1a1a">aminergic neurotransmitter loading into syn…</text>
<rect x="501.80" y="326.80" width="20.80" height="5.40" fill="#72ad4c"/>
<line x1="499.40" y1="329.50" x2="501.00" y2="329.50" stroke="#555" stroke-width="0.6"/>
<text x="498.80" y="332.24" font-size="8.3" text-anchor="end" fill="#1a1a1a">regulation of cell morphogenesis involved…</text>
<rect x="501.80" y="338.67" width="21.20" height="5.40" fill="#72ad4c"/>
<line x1="499.40" y1="341.37" x2="501.00" y2="341.37" stroke="#555" stroke-width="0.6"/>
<text x="498.80" y="344.11" font-size="8.3" text-anchor="end" fill="#1a1a1a">regulation of postsynapse organization</text>
<rect x="501.80" y="350.53" width="25.20" height="5.40" fill="#72ad4c"/>
<line x1="499.40" y1="353.23" x2="501.00" y2="353.23" stroke="#555" stroke-width="0.6"/>
<text x="498.80" y="355.97" font-size="8.3" text-anchor="end" fill="#1a1a1a">positive regulation of dendritic spine mor...</text>
<rect x="501.80" y="362.40" width="26.60" height="5.40" fill="#72ad4c"/>
<line x1="499.40" y1="365.10" x2="501.00" y2="365.10" stroke="#555" stroke-width="0.6"/>
<text x="498.80" y="367.84" font-size="8.3" text-anchor="end" fill="#1a1a1a">neurotransmitter metabolic process</text>
<rect x="501.80" y="374.27" width="30.40" height="5.40" fill="#72ad4c"/>
<line x1="499.40" y1="376.97" x2="501.00" y2="376.97" stroke="#555" stroke-width="0.6"/>
<text x="498.80" y="379.71" font-size="8.3" text-anchor="end" fill="#1a1a1a">regulation of cGMP-mediated signaling</text>
<rect x="501.80" y="386.13" width="35.40" height="5.40" fill="#72ad4c"/>
<line x1="499.40" y1="388.83" x2="501.00" y2="388.83" stroke="#555" stroke-width="0.6"/>
<text x="498.80" y="391.57" font-size="8.3" text-anchor="end" fill="#1a1a1a">neurotransmitter biosynthetic process</text>
<rect x="501.80" y="398.00" width="36.60" height="5.40" fill="#72ad4c"/>
<line x1="499.40" y1="400.70" x2="501.00" y2="400.70" stroke="#555" stroke-width="0.6"/>
<text x="498.80" y="403.44" font-size="8.3" text-anchor="end" fill="#1a1a1a">neurotransmitter loading into synaptic vesicle</text>
<path d="M502.10,291.20 H648.80 V403.40 H502.10" fill="none" stroke="#444" stroke-width="0.75"/>
<rect x="649.30" y="291.20" width="10.70" height="112.20" fill="#72ad4c"/>
<text x="652.95" y="347.30" font-size="5.3" text-anchor="middle" fill="#222" transform="rotate(90 652.95 347.30)">Biological Process</text>
<rect x="501.80" y="406.60" width="21.00" height="5.40" fill="#e07a38"/>
<line x1="499.40" y1="409.30" x2="501.00" y2="409.30" stroke="#555" stroke-width="0.6"/>
<text x="498.80" y="412.04" font-size="8.3" text-anchor="end" fill="#1a1a1a">neuron projection terminus</text>
<rect x="501.80" y="418.57" width="22.80" height="5.40" fill="#e07a38"/>
<line x1="499.40" y1="421.27" x2="501.00" y2="421.27" stroke="#555" stroke-width="0.6"/>
<text x="498.80" y="424.01" font-size="8.3" text-anchor="end" fill="#1a1a1a">axon terminus</text>
<rect x="501.80" y="430.53" width="25.20" height="5.40" fill="#e07a38"/>
<line x1="499.40" y1="433.23" x2="501.00" y2="433.23" stroke="#555" stroke-width="0.6"/>
<text x="498.80" y="435.97" font-size="8.3" text-anchor="end" fill="#1a1a1a">terminal bouton</text>
<rect x="501.80" y="442.50" width="32.00" height="5.40" fill="#e07a38"/>
<line x1="499.40" y1="445.20" x2="501.00" y2="445.20" stroke="#555" stroke-width="0.6"/>
<text x="498.80" y="447.94" font-size="8.3" text-anchor="end" fill="#1a1a1a">T cell receptor complex</text>
<rect x="501.80" y="454.47" width="43.30" height="5.40" fill="#e07a38"/>
<line x1="499.40" y1="457.17" x2="501.00" y2="457.17" stroke="#555" stroke-width="0.6"/>
<text x="498.80" y="459.91" font-size="8.3" text-anchor="end" fill="#1a1a1a">lipopolysaccharide receptor complex</text>
<rect x="501.80" y="466.43" width="63.80" height="5.40" fill="#e07a38"/>
<line x1="499.40" y1="469.13" x2="501.00" y2="469.13" stroke="#555" stroke-width="0.6"/>
<text x="498.80" y="471.87" font-size="8.3" text-anchor="end" fill="#1a1a1a">condensed chromosome</text>
<rect x="501.80" y="478.40" width="66.80" height="5.40" fill="#e07a38"/>
<line x1="499.40" y1="481.10" x2="501.00" y2="481.10" stroke="#555" stroke-width="0.6"/>
<text x="498.80" y="483.84" font-size="8.3" text-anchor="end" fill="#1a1a1a">nuclear chromosome</text>
<rect x="501.80" y="490.37" width="112.70" height="5.40" fill="#e07a38"/>
<line x1="499.40" y1="493.07" x2="501.00" y2="493.07" stroke="#555" stroke-width="0.6"/>
<text x="498.80" y="495.81" font-size="8.3" text-anchor="end" fill="#1a1a1a">condensed nuclear chromosome</text>
<rect x="501.80" y="502.33" width="134.00" height="5.40" fill="#e07a38"/>
<line x1="499.40" y1="505.03" x2="501.00" y2="505.03" stroke="#555" stroke-width="0.6"/>
<text x="498.80" y="507.77" font-size="8.3" text-anchor="end" fill="#1a1a1a">synaptonemal structure</text>
<rect x="501.80" y="514.30" width="134.00" height="5.40" fill="#e07a38"/>
<line x1="499.40" y1="517.00" x2="501.00" y2="517.00" stroke="#555" stroke-width="0.6"/>
<text x="498.80" y="519.74" font-size="8.3" text-anchor="end" fill="#1a1a1a">synaptonemal complex</text>
<path d="M502.10,406.60 H648.80 V519.70 H502.10" fill="none" stroke="#444" stroke-width="0.75"/>
<rect x="649.30" y="406.60" width="10.70" height="113.10" fill="#e07a38"/>
<text x="652.95" y="463.15" font-size="5.3" text-anchor="middle" fill="#222" transform="rotate(90 652.95 463.15)">Cellular Component</text>
<rect x="501.80" y="522.40" width="15.80" height="5.40" fill="#649ccc"/>
<line x1="499.40" y1="525.10" x2="501.00" y2="525.10" stroke="#555" stroke-width="0.6"/>
<text x="498.80" y="527.84" font-size="8.3" text-anchor="end" fill="#1a1a1a">DNA-binding transcription factor, RNA…</text>
<rect x="501.80" y="534.32" width="17.10" height="5.40" fill="#649ccc"/>
<line x1="499.40" y1="537.02" x2="501.00" y2="537.02" stroke="#555" stroke-width="0.6"/>
<text x="498.80" y="539.76" font-size="8.3" text-anchor="end" fill="#1a1a1a">DNA-binding transcription activator…</text>
<rect x="501.80" y="546.24" width="17.20" height="5.40" fill="#649ccc"/>
<line x1="499.40" y1="548.94" x2="501.00" y2="548.94" stroke="#555" stroke-width="0.6"/>
<text x="498.80" y="551.68" font-size="8.3" text-anchor="end" fill="#1a1a1a">DNA-binding transcription activator activity...</text>
<rect x="501.80" y="558.17" width="19.20" height="5.40" fill="#649ccc"/>
<line x1="499.40" y1="560.87" x2="501.00" y2="560.87" stroke="#555" stroke-width="0.6"/>
<text x="498.80" y="563.61" font-size="8.3" text-anchor="end" fill="#1a1a1a">voltage-gated ion channel activity involved…</text>
<rect x="501.80" y="570.09" width="20.30" height="5.40" fill="#649ccc"/>
<line x1="499.40" y1="572.79" x2="501.00" y2="572.79" stroke="#555" stroke-width="0.6"/>
<text x="498.80" y="575.53" font-size="8.3" text-anchor="end" fill="#1a1a1a">neuroligin family protein binding</text>
<rect x="501.80" y="582.01" width="21.70" height="5.40" fill="#649ccc"/>
<line x1="499.40" y1="584.71" x2="501.00" y2="584.71" stroke="#555" stroke-width="0.6"/>
<text x="498.80" y="587.45" font-size="8.3" text-anchor="end" fill="#1a1a1a">neuropeptide receptor activity</text>
<rect x="501.80" y="593.93" width="24.10" height="5.40" fill="#649ccc"/>
<line x1="499.40" y1="596.63" x2="501.00" y2="596.63" stroke="#555" stroke-width="0.6"/>
<text x="498.80" y="599.37" font-size="8.3" text-anchor="end" fill="#1a1a1a">calcium ion binding involved in regulation…</text>
<rect x="501.80" y="605.86" width="27.60" height="5.40" fill="#649ccc"/>
<line x1="499.40" y1="608.56" x2="501.00" y2="608.56" stroke="#555" stroke-width="0.6"/>
<text x="498.80" y="611.29" font-size="8.3" text-anchor="end" fill="#1a1a1a">D-aspartate oxidase activity</text>
<rect x="501.80" y="617.78" width="37.60" height="5.40" fill="#649ccc"/>
<line x1="499.40" y1="620.48" x2="501.00" y2="620.48" stroke="#555" stroke-width="0.6"/>
<text x="498.80" y="623.22" font-size="8.3" text-anchor="end" fill="#1a1a1a">aminopeptidase activity</text>
<rect x="501.80" y="629.70" width="39.50" height="5.40" fill="#649ccc"/>
<line x1="499.40" y1="632.40" x2="501.00" y2="632.40" stroke="#555" stroke-width="0.6"/>
<text x="498.80" y="635.14" font-size="8.3" text-anchor="end" fill="#1a1a1a">thyroid hormone binding</text>
<path d="M502.10,522.40 H648.80 V635.10 H502.10" fill="none" stroke="#444" stroke-width="0.75"/>
<rect x="649.30" y="522.40" width="10.70" height="112.70" fill="#649ccc"/>
<text x="652.95" y="578.75" font-size="5.3" text-anchor="middle" fill="#222" transform="rotate(90 652.95 578.75)">Molecular Function</text>
<line x1="501.80" y1="635.10" x2="501.80" y2="637.10" stroke="#444" stroke-width="0.5"/>
<text x="501.80" y="643.10" font-size="7.2" text-anchor="middle" fill="#222">0</text>
<line x1="538.19" y1="635.10" x2="538.19" y2="637.10" stroke="#444" stroke-width="0.5"/>
<text x="538.19" y="643.10" font-size="7.2" text-anchor="middle" fill="#222">3</text>
<line x1="574.58" y1="635.10" x2="574.58" y2="637.10" stroke="#444" stroke-width="0.5"/>
<text x="574.58" y="643.10" font-size="7.2" text-anchor="middle" fill="#222">6</text>
<line x1="610.97" y1="635.10" x2="610.97" y2="637.10" stroke="#444" stroke-width="0.5"/>
<text x="610.97" y="643.10" font-size="7.2" text-anchor="middle" fill="#222">9</text>
<line x1="647.36" y1="635.10" x2="647.36" y2="637.10" stroke="#444" stroke-width="0.5"/>
<text x="647.36" y="643.10" font-size="7.2" text-anchor="middle" fill="#222">12</text>
<text x="577.10" y="652.40" font-size="8.75" text-anchor="middle" fill="#222">-log10(P-value)</text>
<text x="53.60" y="675.00" font-size="14.5" text-anchor="start" font-weight="bold" fill="#000">F</text>
<text x="86.40" y="682.20" font-size="8.8" text-anchor="start" font-weight="bold" fill="#111">KEGG_Alanine Aspartate and Glutamate Metabolism</text>
<line x1="120.90" y1="690.50" x2="120.90" y2="774.50" stroke="#efefef" stroke-width="0.6"/>
<line x1="140.40" y1="690.50" x2="140.40" y2="774.50" stroke="#efefef" stroke-width="0.6"/>
<line x1="159.90" y1="690.50" x2="159.90" y2="774.50" stroke="#efefef" stroke-width="0.6"/>
<line x1="179.40" y1="690.50" x2="179.40" y2="774.50" stroke="#efefef" stroke-width="0.6"/>
<line x1="198.90" y1="690.50" x2="198.90" y2="774.50" stroke="#efefef" stroke-width="0.6"/>
<line x1="218.40" y1="690.50" x2="218.40" y2="774.50" stroke="#efefef" stroke-width="0.6"/>
<line x1="237.90" y1="690.50" x2="237.90" y2="774.50" stroke="#efefef" stroke-width="0.6"/>
<line x1="257.40" y1="690.50" x2="257.40" y2="774.50" stroke="#efefef" stroke-width="0.6"/>
<line x1="101.60" y1="694.40" x2="273.00" y2="694.40" stroke="#cfcfcf" stroke-width="0.6"/>
<line x1="101.60" y1="690.50" x2="101.60" y2="774.50" stroke="#555" stroke-width="0.7"/>
<line x1="99.80" y1="694.40" x2="101.60" y2="694.40" stroke="#555" stroke-width="0.5"/>
<text x="98.30" y="697.00" font-size="7.8" text-anchor="end" fill="#222">0.0</text>
<line x1="99.80" y1="717.50" x2="101.60" y2="717.50" stroke="#555" stroke-width="0.5"/>
<text x="98.30" y="720.10" font-size="7.8" text-anchor="end" fill="#222">-0.2</text>
<line x1="99.80" y1="740.60" x2="101.60" y2="740.60" stroke="#555" stroke-width="0.5"/>
<text x="98.30" y="743.20" font-size="7.8" text-anchor="end" fill="#222">-0.4</text>
<line x1="99.80" y1="763.70" x2="101.60" y2="763.70" stroke="#555" stroke-width="0.5"/>
<text x="98.30" y="766.30" font-size="7.8" text-anchor="end" fill="#222">-0.6</text>
<text x="72.80" y="744.60" font-size="7.55" text-anchor="middle" fill="#222" transform="rotate(-90 72.80 744.60)">Enrichment Score (ES)</text>
<line x1="101.60" y1="770.80" x2="258.00" y2="770.80" stroke="#4cf83a" stroke-width="0.8" stroke-dasharray="1.6,1.6"/>
<line x1="258.00" y1="694.40" x2="258.00" y2="770.80" stroke="#4cf83a" stroke-width="0.8" stroke-dasharray="1.6,1.6"/>
<polyline points="101.60,693.90 124.30,709.40 124.60,705.60 136.80,713.60 138.00,712.60 139.00,713.20 140.00,712.40 141.20,713.20 142.30,712.50 143.50,713.30 144.70,713.00 145.30,711.00 147.00,711.80 148.20,711.20 149.70,711.50 161.10,719.20 167.00,721.50 212.00,750.00 218.00,752.50 230.00,760.00 231.50,759.30 233.00,760.80 236.00,762.20 236.50,761.50 241.50,764.20 242.90,761.00 257.70,769.80 258.40,764.20 259.60,764.00 259.60,758.60 262.40,758.60 262.40,748.40 263.80,748.00 263.80,737.30 269.50,740.60 269.50,724.30 272.60,725.70 272.60,693.70" fill="none" stroke="#4cf83a" stroke-width="1.25" stroke-linejoin="round"/>
<text x="187.00" y="759.60" font-size="4.35" text-anchor="start" font-family='"Liberation Sans", sans-serif' fill="#333">NES:-1.606 , p:0.008225 , FDR:0.6384</text>
<text x="237.00" y="773.00" font-size="4.35" text-anchor="start" font-family='"Liberation Sans", sans-serif' fill="#333">ES:-0.6672</text>
<line x1="101.60" y1="775.80" x2="101.60" y2="795.70" stroke="#555" stroke-width="0.7"/>
<line x1="125.00" y1="775.80" x2="125.00" y2="795.70" stroke="#555" stroke-width="0.55"/>
<line x1="136.80" y1="775.80" x2="136.80" y2="795.70" stroke="#555" stroke-width="0.55"/>
<line x1="138.60" y1="775.80" x2="138.60" y2="795.70" stroke="#555" stroke-width="0.55"/>
<line x1="140.70" y1="775.80" x2="140.70" y2="795.70" stroke="#555" stroke-width="0.55"/>
<line x1="142.80" y1="775.80" x2="142.80" y2="795.70" stroke="#555" stroke-width="0.55"/>
<line x1="144.70" y1="775.80" x2="144.70" y2="795.70" stroke="#555" stroke-width="0.55"/>
<line x1="146.80" y1="775.80" x2="146.80" y2="795.70" stroke="#555" stroke-width="0.55"/>
<line x1="149.40" y1="775.80" x2="149.40" y2="795.70" stroke="#555" stroke-width="0.55"/>
<line x1="162.50" y1="775.80" x2="162.50" y2="795.70" stroke="#555" stroke-width="0.55"/>
<line x1="164.40" y1="775.80" x2="164.40" y2="795.70" stroke="#555" stroke-width="0.55"/>
<line x1="165.70" y1="775.80" x2="165.70" y2="795.70" stroke="#555" stroke-width="0.55"/>
<line x1="167.00" y1="775.80" x2="167.00" y2="795.70" stroke="#555" stroke-width="0.55"/>
<line x1="173.00" y1="775.80" x2="173.00" y2="795.70" stroke="#555" stroke-width="0.55"/>
<line x1="178.80" y1="775.80" x2="178.80" y2="795.70" stroke="#555" stroke-width="0.55"/>
<line x1="186.70" y1="775.80" x2="186.70" y2="795.70" stroke="#555" stroke-width="0.55"/>
<line x1="190.60" y1="775.80" x2="190.60" y2="795.70" stroke="#555" stroke-width="0.55"/>
<line x1="192.50" y1="775.80" x2="192.50" y2="795.70" stroke="#555" stroke-width="0.55"/>
<line x1="194.10" y1="775.80" x2="194.10" y2="795.70" stroke="#555" stroke-width="0.55"/>
<line x1="199.80" y1="775.80" x2="199.80" y2="795.70" stroke="#555" stroke-width="0.55"/>
<line x1="213.00" y1="775.80" x2="213.00" y2="795.70" stroke="#555" stroke-width="0.55"/>
<line x1="215.10" y1="775.80" x2="215.10" y2="795.70" stroke="#555" stroke-width="0.55"/>
<line x1="217.40" y1="775.80" x2="217.40" y2="795.70" stroke="#555" stroke-width="0.55"/>
<line x1="218.80" y1="775.80" x2="218.80" y2="795.70" stroke="#555" stroke-width="0.55"/>
<line x1="230.60" y1="775.80" x2="230.60" y2="795.70" stroke="#555" stroke-width="0.55"/>
<line x1="235.80" y1="775.80" x2="235.80" y2="795.70" stroke="#555" stroke-width="0.55"/>
<line x1="241.10" y1="775.80" x2="241.10" y2="795.70" stroke="#555" stroke-width="0.55"/>
<line x1="242.40" y1="775.80" x2="242.40" y2="795.70" stroke="#555" stroke-width="0.55"/>
<line x1="257.10" y1="775.80" x2="257.10" y2="795.70" stroke="#555" stroke-width="0.55"/>
<line x1="259.00" y1="775.80" x2="259.00" y2="795.70" stroke="#555" stroke-width="0.55"/>
<line x1="261.60" y1="775.80" x2="261.60" y2="795.70" stroke="#555" stroke-width="0.55"/>
<line x1="263.40" y1="775.80" x2="263.40" y2="795.70" stroke="#555" stroke-width="0.55"/>
<line x1="268.20" y1="775.80" x2="268.20" y2="795.70" stroke="#555" stroke-width="0.55"/>
<line x1="272.90" y1="775.80" x2="272.90" y2="795.70" stroke="#555" stroke-width="0.55"/>
<rect x="101.30" y="795.70" width="10.55" height="8.10" fill="#dd3c3a"/>
<rect x="111.80" y="795.70" width="21.05" height="8.10" fill="#ee7560"/>
<rect x="132.80" y="795.70" width="22.95" height="8.10" fill="#f0aa92"/>
<rect x="155.70" y="795.70" width="24.45" height="8.10" fill="#f7e0d2"/>
<rect x="180.10" y="795.70" width="21.95" height="8.10" fill="#e8ecf8"/>
<rect x="202.00" y="795.70" width="10.55" height="8.10" fill="#c6dfea"/>
<rect x="212.50" y="795.70" width="17.55" height="8.10" fill="#7ab5d9"/>
<rect x="230.00" y="795.70" width="19.85" height="8.10" fill="#4b8cc4"/>
<rect x="249.80" y="795.70" width="23.15" height="8.10" fill="#2e63a8"/>
<text x="111.80" y="812.20" font-size="7.5" text-anchor="middle" fill="#222">High</text>
<text x="262.40" y="812.20" font-size="7.6" text-anchor="middle" fill="#222">Low</text>
<text x="84.40" y="838.20" font-size="8.8" text-anchor="start" font-weight="bold" fill="#111">GO BP_Spinal Cord Association Neuron Differentiation</text>
<line x1="121.20" y1="844.00" x2="121.20" y2="930.00" stroke="#efefef" stroke-width="0.6"/>
<line x1="141.50" y1="844.00" x2="141.50" y2="930.00" stroke="#efefef" stroke-width="0.6"/>
<line x1="161.80" y1="844.00" x2="161.80" y2="930.00" stroke="#efefef" stroke-width="0.6"/>
<line x1="182.10" y1="844.00" x2="182.10" y2="930.00" stroke="#efefef" stroke-width="0.6"/>
<line x1="202.40" y1="844.00" x2="202.40" y2="930.00" stroke="#efefef" stroke-width="0.6"/>
<line x1="222.70" y1="844.00" x2="222.70" y2="930.00" stroke="#efefef" stroke-width="0.6"/>
<line x1="243.00" y1="844.00" x2="243.00" y2="930.00" stroke="#efefef" stroke-width="0.6"/>
<line x1="263.30" y1="844.00" x2="263.30" y2="930.00" stroke="#efefef" stroke-width="0.6"/>
<line x1="101.20" y1="856.60" x2="277.70" y2="856.60" stroke="#cfcfcf" stroke-width="0.6"/>
<line x1="101.20" y1="844.00" x2="101.20" y2="930.00" stroke="#555" stroke-width="0.7"/>
<line x1="99.40" y1="856.60" x2="101.20" y2="856.60" stroke="#555" stroke-width="0.5"/>
<text x="97.90" y="859.20" font-size="7.8" text-anchor="end" fill="#222">0.0</text>
<line x1="99.40" y1="873.80" x2="101.20" y2="873.80" stroke="#555" stroke-width="0.5"/>
<text x="97.90" y="876.40" font-size="7.8" text-anchor="end" fill="#222">-0.2</text>
<line x1="99.40" y1="891.00" x2="101.20" y2="891.00" stroke="#555" stroke-width="0.5"/>
<text x="97.90" y="893.60" font-size="7.8" text-anchor="end" fill="#222">-0.4</text>
<line x1="99.40" y1="908.20" x2="101.20" y2="908.20" stroke="#555" stroke-width="0.5"/>
<text x="97.90" y="910.80" font-size="7.8" text-anchor="end" fill="#222">-0.6</text>
<line x1="99.40" y1="925.40" x2="101.20" y2="925.40" stroke="#555" stroke-width="0.5"/>
<text x="97.90" y="928.00" font-size="7.8" text-anchor="end" fill="#222">-0.8</text>
<text x="74.60" y="900.20" font-size="7.55" text-anchor="middle" fill="#222" transform="rotate(-90 74.60 900.20)">Enrichment Score (ES)</text>
<line x1="101.20" y1="925.00" x2="249.80" y2="925.00" stroke="#4cf83a" stroke-width="0.8" stroke-dasharray="1.6,1.6"/>
<line x1="249.80" y1="856.60" x2="249.80" y2="925.00" stroke="#4cf83a" stroke-width="0.8" stroke-dasharray="1.6,1.6"/>
<polyline points="101.00,856.60 163.60,886.20 164.40,885.20 165.20,886.00 214.00,909.60 214.80,909.00 215.60,909.80 226.00,915.20 226.80,914.60 227.60,915.40 249.40,924.60 249.60,919.80 251.70,919.80 251.70,913.30 252.60,913.00 252.60,906.30 254.50,906.30 254.50,898.90 257.30,900.80 257.30,880.80 258.20,880.00 258.70,870.60 259.60,870.00 259.60,859.50 260.50,858.60 260.50,847.90 277.70,856.20" fill="none" stroke="#4cf83a" stroke-width="1.25" stroke-linejoin="round"/>
<text x="189.40" y="915.20" font-size="4.35" text-anchor="start" font-family='"Liberation Sans", sans-serif' fill="#333">NES:-1.594 , p:0.03041 , FDR:1</text>
<text x="228.20" y="927.00" font-size="4.35" text-anchor="start" font-family='"Liberation Sans", sans-serif' fill="#333">ES:-0.7879</text>
<line x1="101.20" y1="930.40" x2="101.20" y2="950.00" stroke="#555" stroke-width="0.7"/>
<line x1="164.40" y1="930.40" x2="164.40" y2="950.00" stroke="#555" stroke-width="0.45"/>
<line x1="214.00" y1="930.40" x2="214.00" y2="950.00" stroke="#555" stroke-width="0.45"/>
<line x1="227.40" y1="930.40" x2="227.40" y2="950.00" stroke="#555" stroke-width="0.45"/>
<line x1="249.40" y1="930.40" x2="249.40" y2="950.00" stroke="#555" stroke-width="0.45"/>
<line x1="250.20" y1="930.40" x2="250.20" y2="950.00" stroke="#555" stroke-width="0.45"/>
<line x1="251.00" y1="930.40" x2="251.00" y2="950.00" stroke="#555" stroke-width="0.45"/>
<line x1="251.80" y1="930.40" x2="251.80" y2="950.00" stroke="#555" stroke-width="0.45"/>
<line x1="252.50" y1="930.40" x2="252.50" y2="950.00" stroke="#555" stroke-width="0.45"/>
<line x1="254.30" y1="930.40" x2="254.30" y2="950.00" stroke="#555" stroke-width="0.45"/>
<line x1="257.40" y1="930.40" x2="257.40" y2="950.00" stroke="#555" stroke-width="0.45"/>
<line x1="258.10" y1="930.40" x2="258.10" y2="950.00" stroke="#555" stroke-width="0.45"/>
<line x1="258.80" y1="930.40" x2="258.80" y2="950.00" stroke="#555" stroke-width="0.45"/>
<line x1="259.50" y1="930.40" x2="259.50" y2="950.00" stroke="#555" stroke-width="0.45"/>
<line x1="260.20" y1="930.40" x2="260.20" y2="950.00" stroke="#555" stroke-width="0.45"/>
<rect x="101.20" y="950.00" width="17.85" height="8.20" fill="#b2272c"/>
<rect x="119.00" y="950.00" width="1.65" height="8.20" fill="#d9452f"/>
<rect x="120.60" y="950.00" width="1.45" height="8.20" fill="#f4a582"/>
<rect x="122.00" y="950.00" width="3.05" height="8.20" fill="#f8ebe4"/>
<rect x="125.00" y="950.00" width="4.05" height="8.20" fill="#d2e5f0"/>
<rect x="129.00" y="950.00" width="22.05" height="8.20" fill="#84bada"/>
<rect x="151.00" y="950.00" width="63.05" height="8.20" fill="#5592c6"/>
<rect x="214.00" y="950.00" width="63.75" height="8.20" fill="#3566aa"/>
<text x="112.50" y="966.60" font-size="7.5" text-anchor="middle" fill="#222">High</text>
<text x="263.20" y="966.60" font-size="7.6" text-anchor="middle" fill="#222">Low</text>
<text x="338.40" y="673.40" font-size="14.5" text-anchor="start" font-weight="bold" fill="#000">G</text>
<rect x="415.60" y="713.00" width="12.53" height="7.60" fill="#dd96fa"/>
<rect x="427.33" y="713.00" width="12.53" height="7.60" fill="#dd96fa"/>
<rect x="439.07" y="713.00" width="12.53" height="7.60" fill="#dd96fa"/>
<rect x="450.80" y="713.00" width="12.53" height="7.60" fill="#f08a84"/>
<rect x="462.53" y="713.00" width="12.53" height="7.60" fill="#f08a84"/>
<rect x="474.27" y="713.00" width="12.53" height="7.60" fill="#f08a84"/>
<rect x="486.00" y="713.00" width="12.53" height="7.60" fill="#6ff5ea"/>
<rect x="497.73" y="713.00" width="12.53" height="7.60" fill="#6ff5ea"/>
<rect x="509.46" y="713.00" width="12.53" height="7.60" fill="#6ff5ea"/>
<rect x="521.20" y="713.00" width="12.53" height="7.60" fill="#99dd33"/>
<rect x="532.93" y="713.00" width="12.53" height="7.60" fill="#99dd33"/>
<rect x="544.66" y="713.00" width="11.73" height="7.60" fill="#99dd33"/>
<defs><clipPath id="hmclip"><rect x="415.6" y="723.0" width="140.80" height="205.41"/></clipPath></defs><g clip-path="url(#hmclip)">
<rect x="415.60" y="723.00" width="12.53" height="7.88" fill="#fe3a3f"/>
<rect x="427.33" y="723.00" width="12.53" height="7.88" fill="#f67078"/>
<rect x="439.07" y="723.00" width="12.53" height="7.88" fill="#f66068"/>
<rect x="450.80" y="723.00" width="12.53" height="7.88" fill="#fdfafa"/>
<rect x="462.53" y="723.00" width="12.53" height="7.88" fill="#faf4f4"/>
<rect x="474.27" y="723.00" width="12.53" height="7.88" fill="#faf4f4"/>
<rect x="486.00" y="723.00" width="12.53" height="7.88" fill="#ababfd"/>
<rect x="497.73" y="723.00" width="12.53" height="7.88" fill="#ababfd"/>
<rect x="509.46" y="723.00" width="12.53" height="7.88" fill="#ababfd"/>
<rect x="521.20" y="723.00" width="12.53" height="7.88" fill="#ababfd"/>
<rect x="532.93" y="723.00" width="12.53" height="7.88" fill="#ababfd"/>
<rect x="544.66" y="723.00" width="12.53" height="7.88" fill="#ababfd"/>
<rect x="415.60" y="730.08" width="12.53" height="7.88" fill="#fe4048"/>
<rect x="427.33" y="730.08" width="12.53" height="7.88" fill="#f66068"/>
<rect x="439.07" y="730.08" width="12.53" height="7.88" fill="#f67078"/>
<rect x="450.80" y="730.08" width="12.53" height="7.88" fill="#f8f0f0"/>
<rect x="462.53" y="730.08" width="12.53" height="7.88" fill="#ebefff"/>
<rect x="474.27" y="730.08" width="12.53" height="7.88" fill="#f3f3ff"/>
<rect x="486.00" y="730.08" width="12.53" height="7.88" fill="#ababfd"/>
<rect x="497.73" y="730.08" width="12.53" height="7.88" fill="#ababfd"/>
<rect x="509.46" y="730.08" width="12.53" height="7.88" fill="#ababfd"/>
<rect x="521.20" y="730.08" width="12.53" height="7.88" fill="#ababfd"/>
<rect x="532.93" y="730.08" width="12.53" height="7.88" fill="#ababfd"/>
<rect x="544.66" y="730.08" width="12.53" height="7.88" fill="#ababfd"/>
<rect x="415.60" y="737.17" width="12.53" height="7.88" fill="#f65058"/>
<rect x="427.33" y="737.17" width="12.53" height="7.88" fill="#fe4850"/>
<rect x="439.07" y="737.17" width="12.53" height="7.88" fill="#f66068"/>
<rect x="450.80" y="737.17" width="12.53" height="7.88" fill="#fcfcfc"/>
<rect x="462.53" y="737.17" width="12.53" height="7.88" fill="#fcfcfc"/>
<rect x="474.27" y="737.17" width="12.53" height="7.88" fill="#f7f7ff"/>
<rect x="486.00" y="737.17" width="12.53" height="7.88" fill="#adadfd"/>
<rect x="497.73" y="737.17" width="12.53" height="7.88" fill="#b3b3fd"/>
<rect x="509.46" y="737.17" width="12.53" height="7.88" fill="#b3b3fd"/>
<rect x="521.20" y="737.17" width="12.53" height="7.88" fill="#a7a7fd"/>
<rect x="532.93" y="737.17" width="12.53" height="7.88" fill="#a7a7fd"/>
<rect x="544.66" y="737.17" width="12.53" height="7.88" fill="#a7a7fd"/>
<rect x="415.60" y="744.25" width="12.53" height="7.88" fill="#f65058"/>
<rect x="427.33" y="744.25" width="12.53" height="7.88" fill="#f65058"/>
<rect x="439.07" y="744.25" width="12.53" height="7.88" fill="#f66068"/>
<rect x="450.80" y="744.25" width="12.53" height="7.88" fill="#f7f7ff"/>
<rect x="462.53" y="744.25" width="12.53" height="7.88" fill="#f1f1ff"/>
<rect x="474.27" y="744.25" width="12.53" height="7.88" fill="#f7f7ff"/>
<rect x="486.00" y="744.25" width="12.53" height="7.88" fill="#adadfd"/>
<rect x="497.73" y="744.25" width="12.53" height="7.88" fill="#adadfd"/>
<rect x="509.46" y="744.25" width="12.53" height="7.88" fill="#adadfd"/>
<rect x="521.20" y="744.25" width="12.53" height="7.88" fill="#adadfd"/>
<rect x="532.93" y="744.25" width="12.53" height="7.88" fill="#adadfd"/>
<rect x="544.66" y="744.25" width="12.53" height="7.88" fill="#adadfd"/>
<rect x="415.60" y="751.33" width="12.53" height="7.88" fill="#fe3840"/>
<rect x="427.33" y="751.33" width="12.53" height="7.88" fill="#f69098"/>
<rect x="439.07" y="751.33" width="12.53" height="7.88" fill="#f65058"/>
<rect x="450.80" y="751.33" width="12.53" height="7.88" fill="#e7ebff"/>
<rect x="462.53" y="751.33" width="12.53" height="7.88" fill="#faf4f4"/>
<rect x="474.27" y="751.33" width="12.53" height="7.88" fill="#d3d3ff"/>
<rect x="486.00" y="751.33" width="12.53" height="7.88" fill="#b1b1fd"/>
<rect x="497.73" y="751.33" width="12.53" height="7.88" fill="#b1b1fd"/>
<rect x="509.46" y="751.33" width="12.53" height="7.88" fill="#b1b1fd"/>
<rect x="521.20" y="751.33" width="12.53" height="7.88" fill="#b1b1fd"/>
<rect x="532.93" y="751.33" width="12.53" height="7.88" fill="#b1b1fd"/>
<rect x="544.66" y="751.33" width="12.53" height="7.88" fill="#b1b1fd"/>
<rect x="415.60" y="758.41" width="12.53" height="7.88" fill="#f65058"/>
<rect x="427.33" y="758.41" width="12.53" height="7.88" fill="#fe4850"/>
<rect x="439.07" y="758.41" width="12.53" height="7.88" fill="#f66068"/>
<rect x="450.80" y="758.41" width="12.53" height="7.88" fill="#e7ebff"/>
<rect x="462.53" y="758.41" width="12.53" height="7.88" fill="#e7ebff"/>
<rect x="474.27" y="758.41" width="12.53" height="7.88" fill="#dfdfff"/>
<rect x="486.00" y="758.41" width="12.53" height="7.88" fill="#dfdfff"/>
<rect x="497.73" y="758.41" width="12.53" height="7.88" fill="#dfdfff"/>
<rect x="509.46" y="758.41" width="12.53" height="7.88" fill="#bbbbfd"/>
<rect x="521.20" y="758.41" width="12.53" height="7.88" fill="#a3a3fd"/>
<rect x="532.93" y="758.41" width="12.53" height="7.88" fill="#a3a3fd"/>
<rect x="544.66" y="758.41" width="12.53" height="7.88" fill="#a3a3fd"/>
<rect x="415.60" y="765.50" width="12.53" height="7.88" fill="#f65058"/>
<rect x="427.33" y="765.50" width="12.53" height="7.88" fill="#f66068"/>
<rect x="439.07" y="765.50" width="12.53" height="7.88" fill="#f65058"/>
<rect x="450.80" y="765.50" width="12.53" height="7.88" fill="#e7ebff"/>
<rect x="462.53" y="765.50" width="12.53" height="7.88" fill="#e7ebff"/>
<rect x="474.27" y="765.50" width="12.53" height="7.88" fill="#dfdfff"/>
<rect x="486.00" y="765.50" width="12.53" height="7.88" fill="#bbbbfd"/>
<rect x="497.73" y="765.50" width="12.53" height="7.88" fill="#bbbbfd"/>
<rect x="509.46" y="765.50" width="12.53" height="7.88" fill="#bbbbfd"/>
<rect x="521.20" y="765.50" width="12.53" height="7.88" fill="#ababfd"/>
<rect x="532.93" y="765.50" width="12.53" height="7.88" fill="#ababfd"/>
<rect x="544.66" y="765.50" width="12.53" height="7.88" fill="#ababfd"/>
<rect x="415.60" y="772.58" width="12.53" height="7.88" fill="#f66068"/>
<rect x="427.33" y="772.58" width="12.53" height="7.88" fill="#f67078"/>
<rect x="439.07" y="772.58" width="12.53" height="7.88" fill="#f65860"/>
<rect x="450.80" y="772.58" width="12.53" height="7.88" fill="#f8ecec"/>
<rect x="462.53" y="772.58" width="12.53" height="7.88" fill="#f8e4e4"/>
<rect x="474.27" y="772.58" width="12.53" height="7.88" fill="#f8e4e4"/>
<rect x="486.00" y="772.58" width="12.53" height="7.88" fill="#ababfd"/>
<rect x="497.73" y="772.58" width="12.53" height="7.88" fill="#ababfd"/>
<rect x="509.46" y="772.58" width="12.53" height="7.88" fill="#ababfd"/>
<rect x="521.20" y="772.58" width="12.53" height="7.88" fill="#ababfd"/>
<rect x="532.93" y="772.58" width="12.53" height="7.88" fill="#ababfd"/>
<rect x="544.66" y="772.58" width="12.53" height="7.88" fill="#ababfd"/>
<rect x="415.60" y="779.66" width="12.53" height="7.88" fill="#f66068"/>
<rect x="427.33" y="779.66" width="12.53" height="7.88" fill="#f67078"/>
<rect x="439.07" y="779.66" width="12.53" height="7.88" fill="#f66068"/>
<rect x="450.80" y="779.66" width="12.53" height="7.88" fill="#f8ecec"/>
<rect x="462.53" y="779.66" width="12.53" height="7.88" fill="#faf4f4"/>
<rect x="474.27" y="779.66" width="12.53" height="7.88" fill="#f8ecec"/>
<rect x="486.00" y="779.66" width="12.53" height="7.88" fill="#ababfd"/>
<rect x="497.73" y="779.66" width="12.53" height="7.88" fill="#ababfd"/>
<rect x="509.46" y="779.66" width="12.53" height="7.88" fill="#ababfd"/>
<rect x="521.20" y="779.66" width="12.53" height="7.88" fill="#ababfd"/>
<rect x="532.93" y="779.66" width="12.53" height="7.88" fill="#ababfd"/>
<rect x="544.66" y="779.66" width="12.53" height="7.88" fill="#ababfd"/>
<rect x="415.60" y="786.75" width="12.53" height="7.88" fill="#f65058"/>
<rect x="427.33" y="786.75" width="12.53" height="7.88" fill="#f67078"/>
<rect x="439.07" y="786.75" width="12.53" height="7.88" fill="#f68088"/>
<rect x="450.80" y="786.75" width="12.53" height="7.88" fill="#fed8d8"/>
<rect x="462.53" y="786.75" width="12.53" height="7.88" fill="#faf4f4"/>
<rect x="474.27" y="786.75" width="12.53" height="7.88" fill="#f8e4e4"/>
<rect x="486.00" y="786.75" width="12.53" height="7.88" fill="#ababfd"/>
<rect x="497.73" y="786.75" width="12.53" height="7.88" fill="#ababfd"/>
<rect x="509.46" y="786.75" width="12.53" height="7.88" fill="#ababfd"/>
<rect x="521.20" y="786.75" width="12.53" height="7.88" fill="#ababfd"/>
<rect x="532.93" y="786.75" width="12.53" height="7.88" fill="#ababfd"/>
<rect x="544.66" y="786.75" width="12.53" height="7.88" fill="#ababfd"/>
<rect x="415.60" y="793.83" width="12.53" height="7.88" fill="#f67078"/>
<rect x="427.33" y="793.83" width="12.53" height="7.88" fill="#fe4850"/>
<rect x="439.07" y="793.83" width="12.53" height="7.88" fill="#f67078"/>
<rect x="450.80" y="793.83" width="12.53" height="7.88" fill="#fdfdfd"/>
<rect x="462.53" y="793.83" width="12.53" height="7.88" fill="#faf4f4"/>
<rect x="474.27" y="793.83" width="12.53" height="7.88" fill="#faf4f4"/>
<rect x="486.00" y="793.83" width="12.53" height="7.88" fill="#ababfd"/>
<rect x="497.73" y="793.83" width="12.53" height="7.88" fill="#ababfd"/>
<rect x="509.46" y="793.83" width="12.53" height="7.88" fill="#ababfd"/>
<rect x="521.20" y="793.83" width="12.53" height="7.88" fill="#ababfd"/>
<rect x="532.93" y="793.83" width="12.53" height="7.88" fill="#ababfd"/>
<rect x="544.66" y="793.83" width="12.53" height="7.88" fill="#ababfd"/>
<rect x="415.60" y="800.91" width="12.53" height="7.88" fill="#f6a0a8"/>
<rect x="427.33" y="800.91" width="12.53" height="7.88" fill="#f67880"/>
<rect x="439.07" y="800.91" width="12.53" height="7.88" fill="#fe3038"/>
<rect x="450.80" y="800.91" width="12.53" height="7.88" fill="#f8e8e8"/>
<rect x="462.53" y="800.91" width="12.53" height="7.88" fill="#f8e8e8"/>
<rect x="474.27" y="800.91" width="12.53" height="7.88" fill="#f8e4e4"/>
<rect x="486.00" y="800.91" width="12.53" height="7.88" fill="#ababfd"/>
<rect x="497.73" y="800.91" width="12.53" height="7.88" fill="#ababfd"/>
<rect x="509.46" y="800.91" width="12.53" height="7.88" fill="#ababfd"/>
<rect x="521.20" y="800.91" width="12.53" height="7.88" fill="#ababfd"/>
<rect x="532.93" y="800.91" width="12.53" height="7.88" fill="#ababfd"/>
<rect x="544.66" y="800.91" width="12.53" height="7.88" fill="#ababfd"/>
<rect x="415.60" y="808.00" width="12.53" height="7.88" fill="#f69098"/>
<rect x="427.33" y="808.00" width="12.53" height="7.88" fill="#fed0d0"/>
<rect x="439.07" y="808.00" width="12.53" height="7.88" fill="#ff2010"/>
<rect x="450.80" y="808.00" width="12.53" height="7.88" fill="#fee0e0"/>
<rect x="462.53" y="808.00" width="12.53" height="7.88" fill="#e3e7ff"/>
<rect x="474.27" y="808.00" width="12.53" height="7.88" fill="#dbdbff"/>
<rect x="486.00" y="808.00" width="12.53" height="7.88" fill="#b7b7fd"/>
<rect x="497.73" y="808.00" width="12.53" height="7.88" fill="#b7b7fd"/>
<rect x="509.46" y="808.00" width="12.53" height="7.88" fill="#b7b7fd"/>
<rect x="521.20" y="808.00" width="12.53" height="7.88" fill="#b7b7fd"/>
<rect x="532.93" y="808.00" width="12.53" height="7.88" fill="#b7b7fd"/>
<rect x="544.66" y="808.00" width="12.53" height="7.88" fill="#b7b7fd"/>
<rect x="415.60" y="815.08" width="12.53" height="7.88" fill="#f66068"/>
<rect x="427.33" y="815.08" width="12.53" height="7.88" fill="#f66068"/>
<rect x="439.07" y="815.08" width="12.53" height="7.88" fill="#f66068"/>
<rect x="450.80" y="815.08" width="12.53" height="7.88" fill="#ebefff"/>
<rect x="462.53" y="815.08" width="12.53" height="7.88" fill="#ebefff"/>
<rect x="474.27" y="815.08" width="12.53" height="7.88" fill="#f3f3ff"/>
<rect x="486.00" y="815.08" width="12.53" height="7.88" fill="#fcfcfc"/>
<rect x="497.73" y="815.08" width="12.53" height="7.88" fill="#fbfbff"/>
<rect x="509.46" y="815.08" width="12.53" height="7.88" fill="#ebebff"/>
<rect x="521.20" y="815.08" width="12.53" height="7.88" fill="#8b8bfd"/>
<rect x="532.93" y="815.08" width="12.53" height="7.88" fill="#8b8bfd"/>
<rect x="544.66" y="815.08" width="12.53" height="7.88" fill="#8b8bfd"/>
<rect x="415.60" y="822.16" width="12.53" height="7.88" fill="#f66068"/>
<rect x="427.33" y="822.16" width="12.53" height="7.88" fill="#f67078"/>
<rect x="439.07" y="822.16" width="12.53" height="7.88" fill="#f66068"/>
<rect x="450.80" y="822.16" width="12.53" height="7.88" fill="#bbbffd"/>
<rect x="462.53" y="822.16" width="12.53" height="7.88" fill="#bbbffd"/>
<rect x="474.27" y="822.16" width="12.53" height="7.88" fill="#cbcbfd"/>
<rect x="486.00" y="822.16" width="12.53" height="7.88" fill="#f6c0c8"/>
<rect x="497.73" y="822.16" width="12.53" height="7.88" fill="#fcfcfc"/>
<rect x="509.46" y="822.16" width="12.53" height="7.88" fill="#fcfcfc"/>
<rect x="521.20" y="822.16" width="12.53" height="7.88" fill="#9393fd"/>
<rect x="532.93" y="822.16" width="12.53" height="7.88" fill="#a3a3fd"/>
<rect x="544.66" y="822.16" width="12.53" height="7.88" fill="#9393fd"/>
<rect x="415.60" y="829.25" width="12.53" height="7.88" fill="#f8e4e4"/>
<rect x="427.33" y="829.25" width="12.53" height="7.88" fill="#f8ecec"/>
<rect x="439.07" y="829.25" width="12.53" height="7.88" fill="#fedcdc"/>
<rect x="450.80" y="829.25" width="12.53" height="7.88" fill="#f67078"/>
<rect x="462.53" y="829.25" width="12.53" height="7.88" fill="#f66068"/>
<rect x="474.27" y="829.25" width="12.53" height="7.88" fill="#f65058"/>
<rect x="486.00" y="829.25" width="12.53" height="7.88" fill="#ababfd"/>
<rect x="497.73" y="829.25" width="12.53" height="7.88" fill="#ababfd"/>
<rect x="509.46" y="829.25" width="12.53" height="7.88" fill="#ababfd"/>
<rect x="521.20" y="829.25" width="12.53" height="7.88" fill="#ababfd"/>
<rect x="532.93" y="829.25" width="12.53" height="7.88" fill="#ababfd"/>
<rect x="544.66" y="829.25" width="12.53" height="7.88" fill="#ababfd"/>
<rect x="415.60" y="836.33" width="12.53" height="7.88" fill="#fed4d4"/>
<rect x="427.33" y="836.33" width="12.53" height="7.88" fill="#f8e8e8"/>
<rect x="439.07" y="836.33" width="12.53" height="7.88" fill="#faf0f0"/>
<rect x="450.80" y="836.33" width="12.53" height="7.88" fill="#f68088"/>
<rect x="462.53" y="836.33" width="12.53" height="7.88" fill="#fe4850"/>
<rect x="474.27" y="836.33" width="12.53" height="7.88" fill="#f65058"/>
<rect x="486.00" y="836.33" width="12.53" height="7.88" fill="#ababfd"/>
<rect x="497.73" y="836.33" width="12.53" height="7.88" fill="#ababfd"/>
<rect x="509.46" y="836.33" width="12.53" height="7.88" fill="#ababfd"/>
<rect x="521.20" y="836.33" width="12.53" height="7.88" fill="#ababfd"/>
<rect x="532.93" y="836.33" width="12.53" height="7.88" fill="#ababfd"/>
<rect x="544.66" y="836.33" width="12.53" height="7.88" fill="#ababfd"/>
<rect x="415.60" y="843.41" width="12.53" height="7.88" fill="#f7f7ff"/>
<rect x="427.33" y="843.41" width="12.53" height="7.88" fill="#f8e8e8"/>
<rect x="439.07" y="843.41" width="12.53" height="7.88" fill="#fed4d8"/>
<rect x="450.80" y="843.41" width="12.53" height="7.88" fill="#f68088"/>
<rect x="462.53" y="843.41" width="12.53" height="7.88" fill="#fe4850"/>
<rect x="474.27" y="843.41" width="12.53" height="7.88" fill="#f65058"/>
<rect x="486.00" y="843.41" width="12.53" height="7.88" fill="#ababfd"/>
<rect x="497.73" y="843.41" width="12.53" height="7.88" fill="#ababfd"/>
<rect x="509.46" y="843.41" width="12.53" height="7.88" fill="#ababfd"/>
<rect x="521.20" y="843.41" width="12.53" height="7.88" fill="#ababfd"/>
<rect x="532.93" y="843.41" width="12.53" height="7.88" fill="#ababfd"/>
<rect x="544.66" y="843.41" width="12.53" height="7.88" fill="#ababfd"/>
<rect x="415.60" y="850.49" width="12.53" height="7.88" fill="#faf4f4"/>
<rect x="427.33" y="850.49" width="12.53" height="7.88" fill="#fedcdc"/>
<rect x="439.07" y="850.49" width="12.53" height="7.88" fill="#f8e8e8"/>
<rect x="450.80" y="850.49" width="12.53" height="7.88" fill="#f66068"/>
<rect x="462.53" y="850.49" width="12.53" height="7.88" fill="#f67078"/>
<rect x="474.27" y="850.49" width="12.53" height="7.88" fill="#f65058"/>
<rect x="486.00" y="850.49" width="12.53" height="7.88" fill="#ababfd"/>
<rect x="497.73" y="850.49" width="12.53" height="7.88" fill="#ababfd"/>
<rect x="509.46" y="850.49" width="12.53" height="7.88" fill="#ababfd"/>
<rect x="521.20" y="850.49" width="12.53" height="7.88" fill="#ababfd"/>
<rect x="532.93" y="850.49" width="12.53" height="7.88" fill="#ababfd"/>
<rect x="544.66" y="850.49" width="12.53" height="7.88" fill="#ababfd"/>
<rect x="415.60" y="857.58" width="12.53" height="7.88" fill="#fcfcfc"/>
<rect x="427.33" y="857.58" width="12.53" height="7.88" fill="#fedcdc"/>
<rect x="439.07" y="857.58" width="12.53" height="7.88" fill="#f8e8e8"/>
<rect x="450.80" y="857.58" width="12.53" height="7.88" fill="#f65058"/>
<rect x="462.53" y="857.58" width="12.53" height="7.88" fill="#f67880"/>
<rect x="474.27" y="857.58" width="12.53" height="7.88" fill="#f65058"/>
<rect x="486.00" y="857.58" width="12.53" height="7.88" fill="#ababfd"/>
<rect x="497.73" y="857.58" width="12.53" height="7.88" fill="#ababfd"/>
<rect x="509.46" y="857.58" width="12.53" height="7.88" fill="#ababfd"/>
<rect x="521.20" y="857.58" width="12.53" height="7.88" fill="#ababfd"/>
<rect x="532.93" y="857.58" width="12.53" height="7.88" fill="#ababfd"/>
<rect x="544.66" y="857.58" width="12.53" height="7.88" fill="#ababfd"/>
<rect x="415.60" y="864.66" width="12.53" height="7.88" fill="#faf0f0"/>
<rect x="427.33" y="864.66" width="12.53" height="7.88" fill="#fedcdc"/>
<rect x="439.07" y="864.66" width="12.53" height="7.88" fill="#f8e4e4"/>
<rect x="450.80" y="864.66" width="12.53" height="7.88" fill="#f68088"/>
<rect x="462.53" y="864.66" width="12.53" height="7.88" fill="#f67880"/>
<rect x="474.27" y="864.66" width="12.53" height="7.88" fill="#fe3840"/>
<rect x="486.00" y="864.66" width="12.53" height="7.88" fill="#ababfd"/>
<rect x="497.73" y="864.66" width="12.53" height="7.88" fill="#ababfd"/>
<rect x="509.46" y="864.66" width="12.53" height="7.88" fill="#ababfd"/>
<rect x="521.20" y="864.66" width="12.53" height="7.88" fill="#ababfd"/>
<rect x="532.93" y="864.66" width="12.53" height="7.88" fill="#ababfd"/>
<rect x="544.66" y="864.66" width="12.53" height="7.88" fill="#ababfd"/>
<rect x="415.60" y="871.74" width="12.53" height="7.88" fill="#fec8cc"/>
<rect x="427.33" y="871.74" width="12.53" height="7.88" fill="#faf0f0"/>
<rect x="439.07" y="871.74" width="12.53" height="7.88" fill="#faf0f0"/>
<rect x="450.80" y="871.74" width="12.53" height="7.88" fill="#f66068"/>
<rect x="462.53" y="871.74" width="12.53" height="7.88" fill="#f68088"/>
<rect x="474.27" y="871.74" width="12.53" height="7.88" fill="#f65058"/>
<rect x="486.00" y="871.74" width="12.53" height="7.88" fill="#ababfd"/>
<rect x="497.73" y="871.74" width="12.53" height="7.88" fill="#ababfd"/>
<rect x="509.46" y="871.74" width="12.53" height="7.88" fill="#ababfd"/>
<rect x="521.20" y="871.74" width="12.53" height="7.88" fill="#ababfd"/>
<rect x="532.93" y="871.74" width="12.53" height="7.88" fill="#ababfd"/>
<rect x="544.66" y="871.74" width="12.53" height="7.88" fill="#ababfd"/>
<rect x="415.60" y="878.83" width="12.53" height="7.88" fill="#feccd0"/>
<rect x="427.33" y="878.83" width="12.53" height="7.88" fill="#fcfcfc"/>
<rect x="439.07" y="878.83" width="12.53" height="7.88" fill="#ebefff"/>
<rect x="450.80" y="878.83" width="12.53" height="7.88" fill="#f66870"/>
<rect x="462.53" y="878.83" width="12.53" height="7.88" fill="#f66870"/>
<rect x="474.27" y="878.83" width="12.53" height="7.88" fill="#fe4850"/>
<rect x="486.00" y="878.83" width="12.53" height="7.88" fill="#ababfd"/>
<rect x="497.73" y="878.83" width="12.53" height="7.88" fill="#ababfd"/>
<rect x="509.46" y="878.83" width="12.53" height="7.88" fill="#ababfd"/>
<rect x="521.20" y="878.83" width="12.53" height="7.88" fill="#ababfd"/>
<rect x="532.93" y="878.83" width="12.53" height="7.88" fill="#ababfd"/>
<rect x="544.66" y="878.83" width="12.53" height="7.88" fill="#ababfd"/>
<rect x="415.60" y="885.91" width="12.53" height="7.88" fill="#f8ecec"/>
<rect x="427.33" y="885.91" width="12.53" height="7.88" fill="#f8ecec"/>
<rect x="439.07" y="885.91" width="12.53" height="7.88" fill="#fee0e0"/>
<rect x="450.80" y="885.91" width="12.53" height="7.88" fill="#f65860"/>
<rect x="462.53" y="885.91" width="12.53" height="7.88" fill="#f65058"/>
<rect x="474.27" y="885.91" width="12.53" height="7.88" fill="#f67880"/>
<rect x="486.00" y="885.91" width="12.53" height="7.88" fill="#ababfd"/>
<rect x="497.73" y="885.91" width="12.53" height="7.88" fill="#ababfd"/>
<rect x="509.46" y="885.91" width="12.53" height="7.88" fill="#ababfd"/>
<rect x="521.20" y="885.91" width="12.53" height="7.88" fill="#ababfd"/>
<rect x="532.93" y="885.91" width="12.53" height="7.88" fill="#ababfd"/>
<rect x="544.66" y="885.91" width="12.53" height="7.88" fill="#ababfd"/>
<rect x="415.60" y="892.99" width="12.53" height="7.88" fill="#f7f7ff"/>
<rect x="427.33" y="892.99" width="12.53" height="7.88" fill="#fedcdc"/>
<rect x="439.07" y="892.99" width="12.53" height="7.88" fill="#fee0e0"/>
<rect x="450.80" y="892.99" width="12.53" height="7.88" fill="#f64850"/>
<rect x="462.53" y="892.99" width="12.53" height="7.88" fill="#f66068"/>
<rect x="474.27" y="892.99" width="12.53" height="7.88" fill="#f67078"/>
<rect x="486.00" y="892.99" width="12.53" height="7.88" fill="#ababfd"/>
<rect x="497.73" y="892.99" width="12.53" height="7.88" fill="#ababfd"/>
<rect x="509.46" y="892.99" width="12.53" height="7.88" fill="#ababfd"/>
<rect x="521.20" y="892.99" width="12.53" height="7.88" fill="#ababfd"/>
<rect x="532.93" y="892.99" width="12.53" height="7.88" fill="#ababfd"/>
<rect x="544.66" y="892.99" width="12.53" height="7.88" fill="#ababfd"/>
<rect x="415.60" y="900.08" width="12.53" height="7.88" fill="#f8e8e8"/>
<rect x="427.33" y="900.08" width="12.53" height="7.88" fill="#fcfafa"/>
<rect x="439.07" y="900.08" width="12.53" height="7.88" fill="#fed0d4"/>
<rect x="450.80" y="900.08" width="12.53" height="7.88" fill="#f64850"/>
<rect x="462.53" y="900.08" width="12.53" height="7.88" fill="#f65058"/>
<rect x="474.27" y="900.08" width="12.53" height="7.88" fill="#f69098"/>
<rect x="486.00" y="900.08" width="12.53" height="7.88" fill="#ababfd"/>
<rect x="497.73" y="900.08" width="12.53" height="7.88" fill="#ababfd"/>
<rect x="509.46" y="900.08" width="12.53" height="7.88" fill="#ababfd"/>
<rect x="521.20" y="900.08" width="12.53" height="7.88" fill="#ababfd"/>
<rect x="532.93" y="900.08" width="12.53" height="7.88" fill="#ababfd"/>
<rect x="544.66" y="900.08" width="12.53" height="7.88" fill="#ababfd"/>
<rect x="415.60" y="907.16" width="12.53" height="7.88" fill="#fcfafc"/>
<rect x="427.33" y="907.16" width="12.53" height="7.88" fill="#faf4f4"/>
<rect x="439.07" y="907.16" width="12.53" height="7.88" fill="#fed8d8"/>
<rect x="450.80" y="907.16" width="12.53" height="7.88" fill="#fe3840"/>
<rect x="462.53" y="907.16" width="12.53" height="7.88" fill="#f67078"/>
<rect x="474.27" y="907.16" width="12.53" height="7.88" fill="#f67880"/>
<rect x="486.00" y="907.16" width="12.53" height="7.88" fill="#ababfd"/>
<rect x="497.73" y="907.16" width="12.53" height="7.88" fill="#ababfd"/>
<rect x="509.46" y="907.16" width="12.53" height="7.88" fill="#ababfd"/>
<rect x="521.20" y="907.16" width="12.53" height="7.88" fill="#ababfd"/>
<rect x="532.93" y="907.16" width="12.53" height="7.88" fill="#ababfd"/>
<rect x="544.66" y="907.16" width="12.53" height="7.88" fill="#ababfd"/>
<rect x="415.60" y="914.24" width="12.53" height="7.88" fill="#fcfcfc"/>
<rect x="427.33" y="914.24" width="12.53" height="7.88" fill="#e3e7ff"/>
<rect x="439.07" y="914.24" width="12.53" height="7.88" fill="#f7f7ff"/>
<rect x="450.80" y="914.24" width="12.53" height="7.88" fill="#ff2820"/>
<rect x="462.53" y="914.24" width="12.53" height="7.88" fill="#f67880"/>
<rect x="474.27" y="914.24" width="12.53" height="7.88" fill="#f67880"/>
<rect x="486.00" y="914.24" width="12.53" height="7.88" fill="#ababfd"/>
<rect x="497.73" y="914.24" width="12.53" height="7.88" fill="#ababfd"/>
<rect x="509.46" y="914.24" width="12.53" height="7.88" fill="#ababfd"/>
<rect x="521.20" y="914.24" width="12.53" height="7.88" fill="#ababfd"/>
<rect x="532.93" y="914.24" width="12.53" height="7.88" fill="#ababfd"/>
<rect x="544.66" y="914.24" width="12.53" height="7.88" fill="#ababfd"/>
<rect x="415.60" y="921.32" width="12.53" height="7.88" fill="#f8ecec"/>
<rect x="427.33" y="921.32" width="12.53" height="7.88" fill="#faf4f4"/>
<rect x="439.07" y="921.32" width="12.53" height="7.88" fill="#f8e8e8"/>
<rect x="450.80" y="921.32" width="12.53" height="7.88" fill="#fe3840"/>
<rect x="462.53" y="921.32" width="12.53" height="7.88" fill="#fe3038"/>
<rect x="474.27" y="921.32" width="12.53" height="7.88" fill="#fed8d8"/>
<rect x="486.00" y="921.32" width="12.53" height="7.88" fill="#ababfd"/>
<rect x="497.73" y="921.32" width="12.53" height="7.88" fill="#ababfd"/>
<rect x="509.46" y="921.32" width="12.53" height="7.88" fill="#ababfd"/>
<rect x="521.20" y="921.32" width="12.53" height="7.88" fill="#ababfd"/>
<rect x="532.93" y="921.32" width="12.53" height="7.88" fill="#ababfd"/>
<rect x="544.66" y="921.32" width="12.53" height="7.88" fill="#ababfd"/>
</g>
<text x="558.80" y="729.34" font-size="8.2" text-anchor="start" fill="#222">Th</text>
<text x="558.80" y="736.42" font-size="8.2" text-anchor="start" fill="#222">Slc6a5</text>
<text x="558.80" y="743.51" font-size="8.2" text-anchor="start" fill="#222">Mest</text>
<text x="558.80" y="750.59" font-size="8.2" text-anchor="start" fill="#222">Nnat</text>
<text x="558.80" y="757.67" font-size="8.2" text-anchor="start" fill="#222">Ghsr</text>
<text x="558.80" y="764.76" font-size="8.2" text-anchor="start" fill="#222">Plagl1</text>
<text x="558.80" y="771.84" font-size="8.2" text-anchor="start" fill="#222">Peg13</text>
<text x="558.80" y="778.92" font-size="8.2" text-anchor="start" fill="#222">H19</text>
<text x="558.80" y="786.01" font-size="8.2" text-anchor="start" fill="#222">Slc17a6</text>
<text x="558.80" y="793.09" font-size="8.2" text-anchor="start" fill="#222">Rpl17−ps10</text>
<text x="558.80" y="800.17" font-size="8.2" text-anchor="start" fill="#222">Gad1</text>
<text x="558.80" y="807.25" font-size="8.2" text-anchor="start" fill="#222">Kcnc2</text>
<text x="558.80" y="814.34" font-size="8.2" text-anchor="start" fill="#222">Gm8325</text>
<text x="558.80" y="821.42" font-size="8.2" text-anchor="start" fill="#222">Xlr3b</text>
<text x="558.80" y="828.50" font-size="8.2" text-anchor="start" fill="#222">Xlr3a</text>
<text x="558.80" y="835.59" font-size="8.2" text-anchor="start" fill="#222">Emp1</text>
<text x="558.80" y="842.67" font-size="8.2" text-anchor="start" fill="#222">Tcea3</text>
<text x="558.80" y="849.75" font-size="8.2" text-anchor="start" fill="#222">Crispld1</text>
<text x="558.80" y="856.84" font-size="8.2" text-anchor="start" fill="#222">Klf2</text>
<text x="558.80" y="863.92" font-size="8.2" text-anchor="start" fill="#222">C1s1</text>
<text x="558.80" y="871.00" font-size="8.2" text-anchor="start" fill="#222">Gm21411</text>
<text x="558.80" y="878.08" font-size="8.2" text-anchor="start" fill="#222">Gdf3</text>
<text x="558.80" y="885.17" font-size="8.2" text-anchor="start" fill="#222">Rbmxl2</text>
<text x="558.80" y="892.25" font-size="8.2" text-anchor="start" fill="#222">Dppa2</text>
<text x="558.80" y="899.33" font-size="8.2" text-anchor="start" fill="#222">Cckar</text>
<text x="558.80" y="906.42" font-size="8.2" text-anchor="start" fill="#222">Ddr2</text>
<text x="558.80" y="913.50" font-size="8.2" text-anchor="start" fill="#222">Mageb16</text>
<text x="558.80" y="920.58" font-size="8.2" text-anchor="start" fill="#222">Foxg1</text>
<text x="558.80" y="927.67" font-size="8.2" text-anchor="start" fill="#222">Gm9791</text>
<text x="558.80" y="720.30" font-size="8.2" text-anchor="start" font-weight="bold" fill="#111">Group</text>
<text x="420.07" y="931.00" font-size="8.0" text-anchor="start" fill="#222" transform="rotate(90 420.07 931.00)">WT−D7−3</text>
<text x="431.80" y="931.00" font-size="8.0" text-anchor="start" fill="#222" transform="rotate(90 431.80 931.00)">WT−D7−1</text>
<text x="443.53" y="931.00" font-size="8.0" text-anchor="start" fill="#222" transform="rotate(90 443.53 931.00)">WT−D7−2</text>
<text x="455.27" y="931.00" font-size="8.0" text-anchor="start" fill="#222" transform="rotate(90 455.27 931.00)">Env−D7−3</text>
<text x="467.00" y="931.00" font-size="8.0" text-anchor="start" fill="#222" transform="rotate(90 467.00 931.00)">Env−D7−1</text>
<text x="478.73" y="931.00" font-size="8.0" text-anchor="start" fill="#222" transform="rotate(90 478.73 931.00)">Env−D7−2</text>
<text x="490.46" y="931.00" font-size="8.0" text-anchor="start" fill="#222" transform="rotate(90 490.46 931.00)">WT−D0−3</text>
<text x="502.20" y="931.00" font-size="8.0" text-anchor="start" fill="#222" transform="rotate(90 502.20 931.00)">WT−D0−2</text>
<text x="513.93" y="931.00" font-size="8.0" text-anchor="start" fill="#222" transform="rotate(90 513.93 931.00)">WT−D0−1</text>
<text x="525.66" y="931.00" font-size="8.0" text-anchor="start" fill="#222" transform="rotate(90 525.66 931.00)">Env−D0−1</text>
<text x="537.40" y="931.00" font-size="8.0" text-anchor="start" fill="#222" transform="rotate(90 537.40 931.00)">Env−D0−3</text>
<text x="549.13" y="931.00" font-size="8.0" text-anchor="start" fill="#222" transform="rotate(90 549.13 931.00)">Env−D0−2</text>
<polyline points="421.47,713.00 421.47,706.00 433.20,706.00 433.20,713.00" fill="none" stroke="#333" stroke-width="0.6" stroke-linejoin="round"/>
<polyline points="427.33,706.00 427.33,703.40 444.93,703.40 444.93,713.00" fill="none" stroke="#333" stroke-width="0.6" stroke-linejoin="round"/>
<polyline points="456.67,713.00 456.67,706.40 468.40,706.40 468.40,713.00" fill="none" stroke="#333" stroke-width="0.6" stroke-linejoin="round"/>
<polyline points="462.53,706.40 462.53,703.40 480.13,703.40 480.13,713.00" fill="none" stroke="#333" stroke-width="0.6" stroke-linejoin="round"/>
<polyline points="436.13,703.40 436.13,683.40 471.33,683.40 471.33,703.40" fill="none" stroke="#333" stroke-width="0.6" stroke-linejoin="round"/>
<polyline points="503.60,713.00 503.60,710.60 515.33,710.60 515.33,713.00" fill="none" stroke="#333" stroke-width="0.6" stroke-linejoin="round"/>
<polyline points="491.86,713.00 491.86,709.20 509.46,709.20 509.46,710.60" fill="none" stroke="#333" stroke-width="0.6" stroke-linejoin="round"/>
<polyline points="538.80,713.00 538.80,712.00 550.53,712.00 550.53,713.00" fill="none" stroke="#333" stroke-width="0.6" stroke-linejoin="round"/>
<polyline points="527.06,713.00 527.06,711.20 544.66,711.20 544.66,712.00" fill="none" stroke="#333" stroke-width="0.6" stroke-linejoin="round"/>
<polyline points="500.66,709.20 500.66,704.20 535.86,704.20 535.86,711.20" fill="none" stroke="#333" stroke-width="0.6" stroke-linejoin="round"/>
<polyline points="453.73,683.40 453.73,675.40 518.26,675.40 518.26,704.20" fill="none" stroke="#333" stroke-width="0.6" stroke-linejoin="round"/>
<polyline points="415.60,726.54 412.30,726.54 412.30,733.62 415.60,733.62" fill="none" stroke="#333" stroke-width="0.6" stroke-linejoin="round"/>
<polyline points="415.60,740.71 413.70,740.71 413.70,747.79 415.60,747.79" fill="none" stroke="#333" stroke-width="0.6" stroke-linejoin="round"/>
<polyline points="412.30,730.08 411.30,730.08 411.30,744.25 413.70,744.25" fill="none" stroke="#333" stroke-width="0.6" stroke-linejoin="round"/>
<polyline points="411.30,737.17 409.20,737.17 409.20,754.87 415.60,754.87" fill="none" stroke="#333" stroke-width="0.6" stroke-linejoin="round"/>
<polyline points="415.60,761.96 411.30,761.96 411.30,769.04 415.60,769.04" fill="none" stroke="#333" stroke-width="0.6" stroke-linejoin="round"/>
<polyline points="409.20,746.02 407.50,746.02 407.50,765.50 411.30,765.50" fill="none" stroke="#333" stroke-width="0.6" stroke-linejoin="round"/>
<polyline points="415.60,776.12 414.40,776.12 414.40,783.21 415.60,783.21" fill="none" stroke="#333" stroke-width="0.6" stroke-linejoin="round"/>
<polyline points="414.40,779.66 412.60,779.66 412.60,790.29 415.60,790.29" fill="none" stroke="#333" stroke-width="0.6" stroke-linejoin="round"/>
<polyline points="412.60,784.98 410.60,784.98 410.60,797.37 415.60,797.37" fill="none" stroke="#333" stroke-width="0.6" stroke-linejoin="round"/>
<polyline points="410.60,791.17 407.10,791.17 407.10,804.45 415.60,804.45" fill="none" stroke="#333" stroke-width="0.6" stroke-linejoin="round"/>
<polyline points="407.50,755.76 404.30,755.76 404.30,797.81 407.10,797.81" fill="none" stroke="#333" stroke-width="0.6" stroke-linejoin="round"/>
<polyline points="404.30,776.79 401.50,776.79 401.50,811.54 415.60,811.54" fill="none" stroke="#333" stroke-width="0.6" stroke-linejoin="round"/>
<polyline points="415.60,818.62 407.70,818.62 407.70,825.70 415.60,825.70" fill="none" stroke="#333" stroke-width="0.6" stroke-linejoin="round"/>
<polyline points="401.50,794.16 396.60,794.16 396.60,822.16 407.70,822.16" fill="none" stroke="#333" stroke-width="0.6" stroke-linejoin="round"/>
<polyline points="415.60,832.79 413.60,832.79 413.60,839.87 415.60,839.87" fill="none" stroke="#333" stroke-width="0.6" stroke-linejoin="round"/>
<polyline points="413.60,836.33 411.80,836.33 411.80,846.95 415.60,846.95" fill="none" stroke="#333" stroke-width="0.6" stroke-linejoin="round"/>
<polyline points="415.60,854.04 413.40,854.04 413.40,861.12 415.60,861.12" fill="none" stroke="#333" stroke-width="0.6" stroke-linejoin="round"/>
<polyline points="413.40,857.58 411.60,857.58 411.60,868.20 415.60,868.20" fill="none" stroke="#333" stroke-width="0.6" stroke-linejoin="round"/>
<polyline points="411.80,841.64 409.60,841.64 409.60,862.89 411.60,862.89" fill="none" stroke="#333" stroke-width="0.6" stroke-linejoin="round"/>
<polyline points="415.60,875.28 411.40,875.28 411.40,882.37 415.60,882.37" fill="none" stroke="#333" stroke-width="0.6" stroke-linejoin="round"/>
<polyline points="409.60,852.26 407.70,852.26 407.70,878.83 411.40,878.83" fill="none" stroke="#333" stroke-width="0.6" stroke-linejoin="round"/>
<polyline points="415.60,889.45 412.60,889.45 412.60,896.53 415.60,896.53" fill="none" stroke="#333" stroke-width="0.6" stroke-linejoin="round"/>
<polyline points="415.60,903.62 412.80,903.62 412.80,910.70 415.60,910.70" fill="none" stroke="#333" stroke-width="0.6" stroke-linejoin="round"/>
<polyline points="412.60,892.99 410.40,892.99 410.40,907.16 412.80,907.16" fill="none" stroke="#333" stroke-width="0.6" stroke-linejoin="round"/>
<polyline points="410.40,900.07 408.40,900.07 408.40,917.78 415.60,917.78" fill="none" stroke="#333" stroke-width="0.6" stroke-linejoin="round"/>
<polyline points="408.40,908.93 406.50,908.93 406.50,924.87 415.60,924.87" fill="none" stroke="#333" stroke-width="0.6" stroke-linejoin="round"/>
<polyline points="407.70,865.55 402.20,865.55 402.20,916.90 406.50,916.90" fill="none" stroke="#333" stroke-width="0.6" stroke-linejoin="round"/>
<polyline points="396.60,808.16 379.30,808.16 379.30,891.22 402.20,891.22" fill="none" stroke="#333" stroke-width="0.6" stroke-linejoin="round"/>
<text x="592.00" y="707.20" font-size="10.1" text-anchor="start" font-weight="bold" fill="#111">Z-score</text>
<defs><linearGradient id="gZ" x1="0" y1="0" x2="0" y2="1"><stop offset="0" stop-color="#ff1a1a"/><stop offset="0.13" stop-color="#ff3030"/><stop offset="0.3" stop-color="#f08a8a"/><stop offset="0.5" stop-color="#ffffff"/><stop offset="0.7" stop-color="#8c8cf8"/><stop offset="0.87" stop-color="#3030fa"/><stop offset="1" stop-color="#0000ff"/></linearGradient></defs>
<rect x="604.00" y="712.40" width="7.00" height="103.10" fill="url(#gZ)"/>
<text x="614.20" y="726.50" font-size="7.5" text-anchor="start" fill="#222">2</text>
<text x="614.20" y="746.50" font-size="7.5" text-anchor="start" fill="#222">1</text>
<text x="614.20" y="766.50" font-size="7.5" text-anchor="start" fill="#222">0</text>
<text x="614.20" y="786.50" font-size="7.5" text-anchor="start" fill="#222">−1</text>
<text x="614.20" y="806.50" font-size="7.5" text-anchor="start" fill="#222">−2</text>
<text x="624.30" y="718.00" font-size="8.2" text-anchor="start" font-weight="bold" fill="#111">Group</text>
<rect x="624.30" y="720.40" width="10.80" height="10.95" fill="#99dd33"/>
<text x="637.60" y="728.55" font-size="8.07" text-anchor="start" fill="#222">Env−D0</text>
<rect x="624.30" y="731.30" width="10.80" height="10.95" fill="#f08a84"/>
<text x="637.60" y="739.45" font-size="8.07" text-anchor="start" fill="#222">Env−D7</text>
<rect x="624.30" y="742.20" width="10.80" height="10.95" fill="#6ff5ea"/>
<text x="637.60" y="750.35" font-size="8.07" text-anchor="start" fill="#222">WT−D0</text>
<rect x="624.30" y="753.10" width="10.80" height="10.95" fill="#dd96fa"/>
<text x="637.60" y="761.25" font-size="8.07" text-anchor="start" fill="#222">WT−D7</text>
<rect x="0.5" y="0.5" width="683.5" height="968.5" fill="none" stroke="#dce7f3" stroke-width="1"/>
<rect x="684" y="0" width="1" height="970" fill="#dce7f3"/><rect x="0" y="969" width="685" height="1" fill="#dce7f3"/>
</svg>
</body></html>
